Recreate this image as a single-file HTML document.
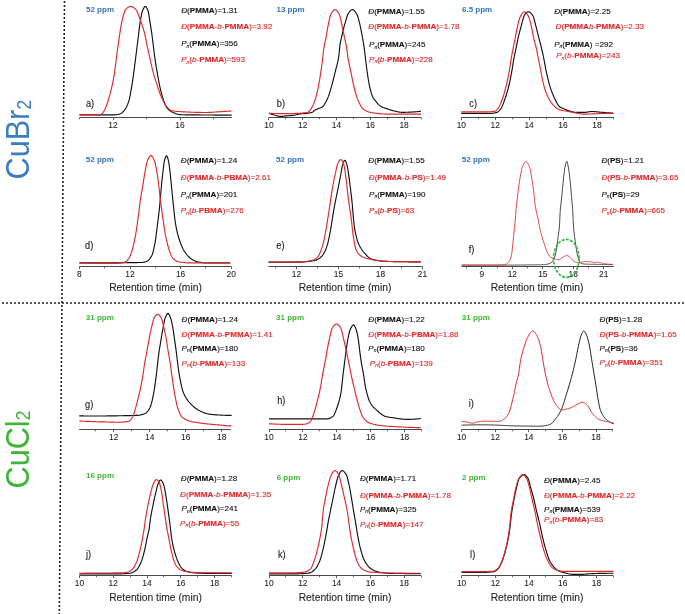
<!DOCTYPE html><html><head><meta charset="utf-8"><style>html,body{margin:0;padding:0;background:#fff;}svg{display:block;will-change:transform;}text{font-family:"Liberation Sans",sans-serif;}</style></head><body>
<svg font-size="8.1" width="685" height="614" viewBox="0 0 685 614">
<rect width="685" height="614" fill="#fff"/>
<line x1="64.5" y1="1" x2="59.3" y2="614" stroke="#222" stroke-width="1.6" stroke-dasharray="2 2"/>
<line x1="2" y1="303" x2="684" y2="303" stroke="#222" stroke-width="1.6" stroke-dasharray="2 2"/>
<text transform="translate(29.2,179.4) rotate(-90) scale(1,1.08)" font-size="30.6" fill="#3a7dc0">CuBr<tspan font-size="18" dy="1.4">2</tspan></text>
<text transform="translate(28.9,488.4) rotate(-90) scale(1,1.08)" font-size="30.6" fill="#3db535">CuCl<tspan font-size="18" dy="1.4">2</tspan></text>
<line x1="79.50" y1="117.50" x2="231.59" y2="117.50" stroke="#484848" stroke-width="1"/>
<line x1="113.50" y1="117.50" x2="113.50" y2="120.10" stroke="#484848" stroke-width="0.9"/>
<line x1="180.50" y1="117.50" x2="180.50" y2="120.10" stroke="#484848" stroke-width="0.9"/>
<line x1="79.50" y1="117.50" x2="79.50" y2="119.30" stroke="#484848" stroke-width="0.8"/>
<line x1="146.50" y1="117.50" x2="146.50" y2="119.30" stroke="#484848" stroke-width="0.8"/>
<line x1="213.50" y1="117.50" x2="213.50" y2="119.30" stroke="#484848" stroke-width="0.8"/>
<text x="113.00" y="128.00" font-size="8.4" fill="#1e1e1e" stroke="#1e1e1e" stroke-width="0.08" text-anchor="middle">12</text>
<text x="180.00" y="128.00" font-size="8.4" fill="#1e1e1e" stroke="#1e1e1e" stroke-width="0.08" text-anchor="middle">16</text>
<path d="M79.5,114.8 80.1,114.8 80.7,114.8 81.3,114.8 81.9,114.8 82.5,114.8 83.1,114.8 83.7,114.8 84.3,114.8 84.9,114.8 85.5,114.8 86.1,114.8 86.7,114.8 87.3,114.8 87.9,114.8 88.5,114.8 89.1,114.8 89.7,114.8 90.3,114.8 90.9,114.8 91.5,114.8 92.1,114.8 92.7,114.8 93.3,114.8 93.9,114.8 94.5,114.8 95.1,114.8 95.7,114.8 96.3,114.8 96.9,114.8 97.5,114.8 98.1,114.8 98.7,114.8 99.3,114.8 99.9,114.8 100.5,114.8 101.1,114.8 101.7,114.8 102.3,114.8 102.9,114.8 103.5,114.8 104.1,114.8 104.7,114.8 105.3,114.8 105.9,114.8 106.5,114.8 107.1,114.8 107.7,114.8 108.3,114.8 108.9,114.8 109.5,114.8 110.1,114.8 110.7,114.8 111.3,114.8 111.9,114.8 112.5,114.8 113.1,114.8 113.7,114.8 114.3,114.8 114.9,114.8 115.5,114.7 116.1,114.7 116.7,114.6 117.3,114.5 118.0,114.4 118.6,114.3 119.2,114.2 119.8,114.0 120.4,113.8 121.0,113.5 121.6,113.1 122.2,112.6 122.8,112.0 123.4,111.3 124.0,110.6 124.6,109.8 125.2,109.0 125.8,108.1 126.4,107.0 127.0,105.8 127.6,104.4 128.2,102.9 128.8,101.2 129.4,98.9 130.0,96.1 130.6,93.0 131.2,89.6 131.8,86.1 132.4,82.3 133.0,78.1 133.6,73.8 134.2,69.4 134.8,64.8 135.4,60.1 136.0,55.3 136.6,50.5 137.2,45.7 137.8,40.8 138.4,36.0 139.0,31.1 139.6,26.1 140.2,21.7 140.8,18.3 141.4,15.1 142.0,12.4 142.6,10.5 143.2,9.2 143.8,8.0 144.4,7.0 145.0,6.5 145.6,6.5 146.2,7.0 146.8,8.0 147.4,9.3 148.0,10.7 148.6,13.3 149.2,16.8 149.8,20.8 150.4,24.6 151.0,28.3 151.6,32.2 152.2,36.5 152.8,41.4 153.4,46.5 154.0,51.4 154.6,56.0 155.2,60.3 155.8,64.2 156.4,67.9 157.0,71.4 157.6,74.8 158.2,78.2 158.8,81.4 159.4,84.5 160.0,87.3 160.6,89.9 161.2,92.4 161.8,94.7 162.4,96.9 163.0,98.8 163.6,100.5 164.2,102.1 164.8,103.5 165.4,104.9 166.0,106.1 166.6,107.2 167.2,108.1 167.8,108.8 168.4,109.4 169.0,110.0 169.6,110.5 170.2,110.9 170.8,111.3 171.4,111.7 172.0,112.0 172.6,112.3 173.2,112.6 173.8,112.8 174.4,113.1 175.0,113.3 175.6,113.6 176.2,113.8 176.8,114.0 177.4,114.2 178.0,114.3 178.6,114.4 179.2,114.5 179.8,114.6 180.4,114.6 181.0,114.6 181.6,114.7 182.2,114.7 182.8,114.7 183.4,114.7 184.0,114.7 184.6,114.8 185.2,114.8 185.8,114.8 186.4,114.8 187.0,114.8 187.6,114.8 188.2,114.8 188.8,114.8 189.4,114.8 190.0,114.8 190.6,114.8 191.2,114.8 191.8,114.9 192.4,114.9 193.0,114.9 193.7,114.9 194.3,114.9 194.9,114.9 195.5,114.9 196.1,114.9 196.7,114.9 197.3,114.9 197.9,114.9 198.5,114.9 199.1,114.9 199.7,114.9 200.3,114.9 200.9,115.0 201.5,115.0 202.1,115.0 202.7,115.0 203.3,115.0 203.9,115.0 204.5,115.0 205.1,115.0 205.7,115.0 206.3,115.0 206.9,115.0 207.5,115.0 208.1,115.0 208.7,115.0 209.3,115.0 209.9,115.0 210.5,115.0 211.1,115.0 211.7,115.0 212.3,115.0 212.9,115.0 213.5,115.0 214.1,115.1 214.7,115.1 215.3,115.1 215.9,115.1 216.5,115.1 217.1,115.1 217.7,115.1 218.3,115.1 218.9,115.1 219.5,115.1 220.1,115.1 220.7,115.1 221.3,115.1 221.9,115.1 222.5,115.1 223.1,115.1 223.7,115.1 224.3,115.1 224.9,115.1 225.5,115.1 226.1,115.1 226.7,115.1 227.3,115.1 227.9,115.1 228.5,115.1 229.1,115.1 229.7,115.1 230.3,115.1 230.9,115.1 231.5,115.1" fill="none" stroke="#121212" stroke-width="1.15" stroke-linejoin="round"/>
<path d="M79.5,114.8 80.1,114.8 80.7,114.8 81.3,114.8 81.9,114.8 82.5,114.8 83.1,114.8 83.7,114.8 84.3,114.8 84.9,114.8 85.5,114.8 86.1,114.8 86.7,114.8 87.3,114.8 87.9,114.8 88.5,114.8 89.1,114.8 89.7,114.8 90.3,114.8 90.9,114.8 91.5,114.8 92.1,114.8 92.7,114.8 93.3,114.8 93.9,114.8 94.5,114.8 95.1,114.8 95.7,114.8 96.3,114.8 96.9,114.8 97.5,114.8 98.1,114.8 98.7,114.8 99.3,114.8 99.9,114.8 100.5,114.7 101.1,114.4 101.7,114.0 102.3,113.6 102.9,112.8 103.5,111.9 104.1,110.9 104.7,109.8 105.3,108.6 105.9,107.1 106.5,105.5 107.1,103.8 107.7,101.9 108.3,100.1 108.9,98.1 109.5,96.1 110.1,93.9 110.7,91.7 111.3,89.2 111.9,86.6 112.5,83.9 113.1,80.9 113.7,77.6 114.3,74.1 114.9,70.2 115.5,65.5 116.1,60.5 116.7,55.5 117.3,50.9 118.0,46.4 118.6,41.9 119.2,37.6 119.8,33.6 120.4,29.9 121.0,26.2 121.6,22.9 122.2,20.1 122.8,17.7 123.4,15.4 124.0,13.3 124.6,11.5 125.2,10.1 125.8,9.2 126.4,8.7 127.0,8.1 127.6,7.6 128.2,7.2 128.8,6.9 129.4,6.6 130.0,6.5 130.6,6.4 131.2,6.4 131.8,6.6 132.4,6.8 133.0,7.2 133.6,7.6 134.2,8.0 134.8,8.5 135.4,9.1 136.0,9.7 136.6,10.6 137.2,11.8 137.8,13.2 138.4,14.7 139.0,16.3 139.6,18.0 140.2,19.6 140.8,21.2 141.4,22.8 142.0,24.6 142.6,26.4 143.2,28.3 143.8,30.4 144.4,32.6 145.0,35.2 145.6,38.1 146.2,41.2 146.8,44.2 147.4,47.1 148.0,49.8 148.6,52.5 149.2,55.2 149.8,57.8 150.4,60.5 151.0,63.2 151.6,66.0 152.2,68.6 152.8,70.9 153.4,73.2 154.0,75.3 154.6,77.3 155.2,79.3 155.8,81.1 156.4,83.0 157.0,84.8 157.6,86.6 158.2,88.4 158.8,90.2 159.4,91.9 160.0,93.6 160.6,95.2 161.2,96.6 161.8,98.0 162.4,99.3 163.0,100.5 163.6,101.7 164.2,102.8 164.8,103.8 165.4,104.8 166.0,105.7 166.6,106.4 167.2,107.1 167.8,107.8 168.4,108.5 169.0,109.1 169.6,109.6 170.2,110.1 170.8,110.4 171.4,110.6 172.0,110.7 172.6,110.8 173.2,110.9 173.8,111.0 174.4,111.1 175.0,111.2 175.6,111.2 176.2,111.3 176.8,111.3 177.4,111.4 178.0,111.5 178.6,111.5 179.2,111.5 179.8,111.6 180.4,111.6 181.0,111.7 181.6,111.7 182.2,111.8 182.8,111.8 183.4,111.8 184.0,111.9 184.6,111.9 185.2,111.9 185.8,111.9 186.4,112.0 187.0,112.0 187.6,112.0 188.2,112.0 188.8,112.1 189.4,112.1 190.0,112.1 190.6,112.1 191.2,112.2 191.8,112.2 192.4,112.2 193.0,112.2 193.7,112.2 194.3,112.3 194.9,112.3 195.5,112.3 196.1,112.3 196.7,112.3 197.3,112.4 197.9,112.4 198.5,112.4 199.1,112.4 199.7,112.4 200.3,112.4 200.9,112.4 201.5,112.5 202.1,112.5 202.7,112.5 203.3,112.5 203.9,112.5 204.5,112.5 205.1,112.5 205.7,112.5 206.3,112.5 206.9,112.5 207.5,112.5 208.1,112.5 208.7,112.4 209.3,112.4 209.9,112.4 210.5,112.3 211.1,112.3 211.7,112.3 212.3,112.2 212.9,112.2 213.5,112.1 214.1,112.1 214.7,112.0 215.3,112.0 215.9,112.0 216.5,111.9 217.1,111.9 217.7,111.8 218.3,111.8 218.9,111.7 219.5,111.7 220.1,111.7 220.7,111.6 221.3,111.6 221.9,111.6 222.5,111.5 223.1,111.5 223.7,111.5 224.3,111.4 224.9,111.4 225.5,111.4 226.1,111.3 226.7,111.3 227.3,111.2 227.9,111.2 228.5,111.2 229.1,111.1 229.7,111.1 230.3,111.1 230.9,111.0 231.5,111.0" fill="none" stroke="#e02a2a" stroke-width="1.15" stroke-linejoin="round"/>
<text x="86.0" y="12.0" font-size="8.0" font-weight="bold" fill="#3572b8">52 ppm</text>
<text transform="translate(86.0,106.9) scale(0.92,1)" font-size="10" fill="#1a1a1a" stroke="#1a1a1a" stroke-width="0.12">a)</text>
<text x="181.2" y="12.6" fill="#121212" stroke="#121212" stroke-width="0.12"><tspan font-style="italic">Đ</tspan>(<tspan font-weight="bold">PMMA</tspan>)=1.31</text>
<text x="181.2" y="29.0" fill="#e32626" stroke="#e32626" stroke-width="0.12"><tspan font-style="italic">Đ</tspan>(<tspan font-weight="bold">PMMA</tspan>-<tspan font-style="italic">b</tspan>-<tspan font-weight="bold">PMMA</tspan>)=3.92</text>
<text x="181.2" y="46.1" fill="#121212" stroke="#121212" stroke-width="0.12"><tspan font-style="italic">P</tspan><tspan font-style="italic" font-size="4.9" dy="1.5">n</tspan><tspan dy="-1.5">(</tspan><tspan font-weight="bold">PMMA</tspan>)=356</text>
<text x="181.2" y="62.2" fill="#e32626" stroke="#e32626" stroke-width="0.12"><tspan font-style="italic">P</tspan><tspan font-style="italic" font-size="4.9" dy="1.5">n</tspan><tspan dy="-1.5">(</tspan><tspan font-style="italic">b</tspan>-<tspan font-weight="bold">PMMA</tspan>)=593</text>
<line x1="268.90" y1="117.50" x2="421.00" y2="117.50" stroke="#484848" stroke-width="1"/>
<line x1="268.50" y1="117.50" x2="268.50" y2="120.10" stroke="#484848" stroke-width="0.9"/>
<line x1="302.50" y1="117.50" x2="302.50" y2="120.10" stroke="#484848" stroke-width="0.9"/>
<line x1="336.50" y1="117.50" x2="336.50" y2="120.10" stroke="#484848" stroke-width="0.9"/>
<line x1="370.50" y1="117.50" x2="370.50" y2="120.10" stroke="#484848" stroke-width="0.9"/>
<line x1="404.50" y1="117.50" x2="404.50" y2="120.10" stroke="#484848" stroke-width="0.9"/>
<line x1="285.50" y1="117.50" x2="285.50" y2="119.30" stroke="#484848" stroke-width="0.8"/>
<line x1="319.50" y1="117.50" x2="319.50" y2="119.30" stroke="#484848" stroke-width="0.8"/>
<line x1="353.50" y1="117.50" x2="353.50" y2="119.30" stroke="#484848" stroke-width="0.8"/>
<line x1="387.50" y1="117.50" x2="387.50" y2="119.30" stroke="#484848" stroke-width="0.8"/>
<line x1="421.50" y1="117.50" x2="421.50" y2="119.30" stroke="#484848" stroke-width="0.8"/>
<text x="268.90" y="128.00" font-size="8.4" fill="#1e1e1e" stroke="#1e1e1e" stroke-width="0.08" text-anchor="middle">10</text>
<text x="302.70" y="128.00" font-size="8.4" fill="#1e1e1e" stroke="#1e1e1e" stroke-width="0.08" text-anchor="middle">12</text>
<text x="336.50" y="128.00" font-size="8.4" fill="#1e1e1e" stroke="#1e1e1e" stroke-width="0.08" text-anchor="middle">14</text>
<text x="370.30" y="128.00" font-size="8.4" fill="#1e1e1e" stroke="#1e1e1e" stroke-width="0.08" text-anchor="middle">16</text>
<text x="404.10" y="128.00" font-size="8.4" fill="#1e1e1e" stroke="#1e1e1e" stroke-width="0.08" text-anchor="middle">18</text>
<path d="M268.9,113.3 269.5,113.5 270.1,113.7 270.7,113.9 271.3,114.1 271.9,114.3 272.5,114.5 273.1,114.7 273.7,114.8 274.3,115.0 274.9,115.2 275.5,115.3 276.1,115.5 276.7,115.7 277.3,115.9 277.9,116.1 278.5,116.2 279.1,116.3 279.7,116.4 280.3,116.4 280.9,116.4 281.5,116.4 282.1,116.3 282.7,116.3 283.3,116.2 283.9,116.1 284.5,116.1 285.1,116.0 285.7,115.9 286.3,115.9 286.9,115.8 287.5,115.8 288.1,115.7 288.7,115.7 289.3,115.6 289.9,115.6 290.5,115.5 291.1,115.5 291.7,115.4 292.3,115.4 292.9,115.3 293.5,115.3 294.1,115.2 294.8,115.1 295.4,115.0 296.0,114.8 296.6,114.7 297.2,114.5 297.8,114.4 298.4,114.2 299.0,114.1 299.6,114.0 300.2,113.9 300.8,113.8 301.4,113.8 302.0,113.7 302.6,113.7 303.2,113.7 303.8,113.7 304.4,113.6 305.0,113.6 305.6,113.5 306.2,113.5 306.8,113.4 307.4,113.3 308.0,113.2 308.6,113.1 309.2,113.0 309.8,112.9 310.4,112.8 311.0,112.6 311.6,112.5 312.2,112.2 312.8,111.9 313.4,111.5 314.0,111.0 314.6,110.5 315.2,110.1 315.8,109.8 316.4,109.5 317.0,109.2 317.6,108.9 318.2,108.7 318.8,108.4 319.4,108.2 320.0,108.0 320.6,107.8 321.2,107.5 321.8,107.2 322.4,106.8 323.0,106.3 323.6,105.6 324.2,104.8 324.8,103.9 325.4,102.8 326.0,101.7 326.6,100.5 327.2,99.2 327.8,97.9 328.4,96.4 329.0,94.7 329.6,92.9 330.2,90.9 330.8,88.8 331.4,86.8 332.0,84.7 332.6,82.4 333.2,80.1 333.8,77.7 334.4,75.3 335.0,72.8 335.6,70.3 336.2,67.9 336.8,65.7 337.4,63.3 338.0,60.6 338.6,57.3 339.2,52.8 339.8,46.4 340.4,42.6 341.0,39.6 341.6,37.0 342.2,34.4 342.8,31.7 343.4,29.3 344.0,26.9 344.6,24.7 345.3,22.5 345.9,20.3 346.5,18.1 347.1,16.2 347.7,14.6 348.3,13.6 348.9,12.7 349.5,11.8 350.1,11.0 350.7,10.4 351.3,9.9 351.9,9.7 352.5,9.6 353.1,9.8 353.7,10.1 354.3,10.7 354.9,11.4 355.5,12.1 356.1,13.0 356.7,14.0 357.3,15.2 357.9,16.9 358.5,19.0 359.1,21.3 359.7,23.7 360.3,26.3 360.9,29.2 361.5,32.3 362.1,35.4 362.7,38.7 363.3,42.2 363.9,45.9 364.5,50.3 365.1,55.3 365.7,60.2 366.3,65.3 366.9,70.0 367.5,74.2 368.1,78.2 368.7,81.9 369.3,85.1 369.9,87.8 370.5,90.2 371.1,92.4 371.7,94.3 372.3,95.8 372.9,97.1 373.5,98.2 374.1,99.1 374.7,99.9 375.3,100.7 375.9,101.4 376.5,102.1 377.1,102.9 377.7,103.6 378.3,104.3 378.9,104.9 379.5,105.4 380.1,105.9 380.7,106.3 381.3,106.6 381.9,106.9 382.5,107.2 383.1,107.4 383.7,107.7 384.3,107.9 384.9,108.1 385.5,108.3 386.1,108.5 386.7,108.7 387.3,108.9 387.9,109.1 388.5,109.3 389.1,109.5 389.7,109.7 390.3,109.9 390.9,110.1 391.5,110.3 392.1,110.4 392.7,110.6 393.3,110.7 393.9,110.9 394.5,111.0 395.1,111.1 395.8,111.3 396.4,111.4 397.0,111.6 397.6,111.7 398.2,111.8 398.8,112.0 399.4,112.1 400.0,112.1 400.6,112.2 401.2,112.3 401.8,112.3 402.4,112.3 403.0,112.3 403.6,112.3 404.2,112.3 404.8,112.3 405.4,112.3 406.0,112.2 406.6,112.2 407.2,112.2 407.8,112.2 408.4,112.2 409.0,112.1 409.6,112.1 410.2,112.1 410.8,112.1 411.4,112.1 412.0,112.0 412.6,112.0 413.2,112.0 413.8,111.9 414.4,111.9 415.0,111.8 415.6,111.8 416.2,111.7 416.8,111.7 417.4,111.6 418.0,111.6 418.6,111.5 419.2,111.5 419.8,111.4 420.4,111.4 421.0,111.3" fill="none" stroke="#121212" stroke-width="1.15" stroke-linejoin="round"/>
<path d="M268.9,113.3 269.5,113.3 270.1,113.4 270.7,113.4 271.3,113.4 271.9,113.4 272.5,113.4 273.1,113.5 273.7,113.5 274.3,113.5 274.9,113.5 275.5,113.5 276.1,113.5 276.7,113.5 277.3,113.5 277.9,113.6 278.5,113.6 279.1,113.6 279.7,113.6 280.3,113.6 280.9,113.6 281.5,113.6 282.1,113.6 282.7,113.6 283.3,113.6 283.9,113.6 284.5,113.6 285.1,113.6 285.7,113.6 286.3,113.6 286.9,113.6 287.5,113.6 288.1,113.6 288.7,113.6 289.3,113.6 289.9,113.6 290.5,113.6 291.1,113.6 291.7,113.6 292.3,113.5 292.9,113.5 293.5,113.5 294.1,113.5 294.8,113.5 295.4,113.4 296.0,113.4 296.6,113.4 297.2,113.3 297.8,113.3 298.4,113.3 299.0,113.3 299.6,113.2 300.2,113.2 300.8,113.2 301.4,113.1 302.0,113.1 302.6,113.0 303.2,112.9 303.8,112.9 304.4,112.8 305.0,112.7 305.6,112.6 306.2,112.6 306.8,112.5 307.4,112.3 308.0,112.2 308.6,111.8 309.2,111.3 309.8,110.6 310.4,109.8 311.0,108.9 311.6,107.9 312.2,106.9 312.8,105.7 313.4,104.4 314.0,102.9 314.6,101.2 315.2,99.4 315.8,97.5 316.4,95.3 317.0,92.9 317.6,90.3 318.2,87.5 318.8,84.5 319.4,81.1 320.0,77.3 320.6,73.4 321.2,69.5 321.8,65.3 322.4,60.8 323.0,55.0 323.6,50.0 324.2,46.4 324.8,43.4 325.4,40.5 326.0,37.3 326.6,33.8 327.2,30.4 327.8,27.1 328.4,24.2 329.0,21.3 329.6,18.5 330.2,16.1 330.8,14.4 331.4,13.3 332.0,12.3 332.6,11.4 333.2,10.7 333.8,10.1 334.4,9.8 335.0,9.6 335.6,9.7 336.2,10.0 336.8,10.6 337.4,11.3 338.0,12.1 338.6,13.0 339.2,14.1 339.8,15.7 340.4,18.0 341.0,20.7 341.6,23.6 342.2,26.3 342.8,29.2 343.4,32.1 344.0,35.1 344.6,38.1 345.3,40.9 345.9,43.8 346.5,46.9 347.1,50.9 347.7,56.0 348.3,59.7 348.9,62.8 349.5,65.6 350.1,68.3 350.7,71.1 351.3,74.1 351.9,77.1 352.5,80.1 353.1,82.9 353.7,85.6 354.3,88.0 354.9,90.3 355.5,92.5 356.1,94.7 356.7,96.6 357.3,98.4 357.9,99.9 358.5,101.3 359.1,102.6 359.7,103.8 360.3,105.0 360.9,106.1 361.5,107.0 362.1,107.9 362.7,108.5 363.3,109.0 363.9,109.5 364.5,109.9 365.1,110.3 365.7,110.7 366.3,111.0 366.9,111.3 367.5,111.5 368.1,111.8 368.7,112.0 369.3,112.1 369.9,112.3 370.5,112.4 371.1,112.5 371.7,112.6 372.3,112.7 372.9,112.8 373.5,112.9 374.1,113.0 374.7,113.1 375.3,113.1 375.9,113.2 376.5,113.3 377.1,113.3 377.7,113.4 378.3,113.5 378.9,113.5 379.5,113.6 380.1,113.6 380.7,113.7 381.3,113.8 381.9,113.8 382.5,113.9 383.1,114.0 383.7,114.0 384.3,114.0 384.9,114.1 385.5,114.1 386.1,114.1 386.7,114.1 387.3,114.1 387.9,114.1 388.5,114.1 389.1,114.1 389.7,114.1 390.3,114.1 390.9,114.1 391.5,114.1 392.1,114.1 392.7,114.1 393.3,114.1 393.9,114.1 394.5,114.1 395.1,114.1 395.8,114.1 396.4,114.1 397.0,114.1 397.6,114.1 398.2,114.1 398.8,114.1 399.4,114.1 400.0,114.1 400.6,114.1 401.2,114.1 401.8,114.1 402.4,114.1 403.0,114.1 403.6,114.1 404.2,114.1 404.8,114.1 405.4,114.1 406.0,114.1 406.6,114.1 407.2,114.1 407.8,114.1 408.4,114.1 409.0,114.1 409.6,114.1 410.2,114.1 410.8,114.1 411.4,114.1 412.0,114.1 412.6,114.1 413.2,114.1 413.8,114.1 414.4,114.1 415.0,114.1 415.6,114.1 416.2,114.1 416.8,114.1 417.4,114.1 418.0,114.1 418.6,114.1 419.2,114.1 419.8,114.1 420.4,114.1 421.0,114.1" fill="none" stroke="#e02a2a" stroke-width="1.15" stroke-linejoin="round"/>
<text x="276.5" y="12.2" font-size="8.0" font-weight="bold" fill="#3572b8">13 ppm</text>
<text transform="translate(276.8,106.9) scale(0.92,1)" font-size="10" fill="#1a1a1a" stroke="#1a1a1a" stroke-width="0.12">b)</text>
<text x="368.3" y="14.1" fill="#121212" stroke="#121212" stroke-width="0.12"><tspan font-style="italic">Đ</tspan>(<tspan font-weight="bold">PMMA</tspan>)=1.55</text>
<text x="368.3" y="28.7" fill="#e32626" stroke="#e32626" stroke-width="0.12"><tspan font-style="italic">Đ</tspan>(<tspan font-weight="bold">PMMA</tspan>-<tspan font-style="italic">b</tspan>-<tspan font-weight="bold">PMMA</tspan>)=1.78</text>
<text x="369.0" y="47.2" fill="#121212" stroke="#121212" stroke-width="0.12"><tspan font-style="italic">P</tspan><tspan font-style="italic" font-size="4.9" dy="1.5">n</tspan><tspan dy="-1.5">(</tspan><tspan font-weight="bold">PMMA</tspan>)=245</text>
<text x="369.0" y="61.5" fill="#e32626" stroke="#e32626" stroke-width="0.12"><tspan font-style="italic">P</tspan><tspan font-style="italic" font-size="4.9" dy="1.5">n</tspan><tspan dy="-1.5">(</tspan><tspan font-style="italic">b</tspan>-<tspan font-weight="bold">PMMA</tspan>)=228</text>
<line x1="461.30" y1="117.50" x2="613.85" y2="117.50" stroke="#484848" stroke-width="1"/>
<line x1="461.50" y1="117.50" x2="461.50" y2="120.10" stroke="#484848" stroke-width="0.9"/>
<line x1="495.50" y1="117.50" x2="495.50" y2="120.10" stroke="#484848" stroke-width="0.9"/>
<line x1="529.50" y1="117.50" x2="529.50" y2="120.10" stroke="#484848" stroke-width="0.9"/>
<line x1="563.50" y1="117.50" x2="563.50" y2="120.10" stroke="#484848" stroke-width="0.9"/>
<line x1="596.50" y1="117.50" x2="596.50" y2="120.10" stroke="#484848" stroke-width="0.9"/>
<line x1="478.50" y1="117.50" x2="478.50" y2="119.30" stroke="#484848" stroke-width="0.8"/>
<line x1="512.50" y1="117.50" x2="512.50" y2="119.30" stroke="#484848" stroke-width="0.8"/>
<line x1="546.50" y1="117.50" x2="546.50" y2="119.30" stroke="#484848" stroke-width="0.8"/>
<line x1="579.50" y1="117.50" x2="579.50" y2="119.30" stroke="#484848" stroke-width="0.8"/>
<line x1="613.50" y1="117.50" x2="613.50" y2="119.30" stroke="#484848" stroke-width="0.8"/>
<text x="461.30" y="128.00" font-size="8.4" fill="#1e1e1e" stroke="#1e1e1e" stroke-width="0.08" text-anchor="middle">10</text>
<text x="495.20" y="128.00" font-size="8.4" fill="#1e1e1e" stroke="#1e1e1e" stroke-width="0.08" text-anchor="middle">12</text>
<text x="529.10" y="128.00" font-size="8.4" fill="#1e1e1e" stroke="#1e1e1e" stroke-width="0.08" text-anchor="middle">14</text>
<text x="563.00" y="128.00" font-size="8.4" fill="#1e1e1e" stroke="#1e1e1e" stroke-width="0.08" text-anchor="middle">16</text>
<text x="596.90" y="128.00" font-size="8.4" fill="#1e1e1e" stroke="#1e1e1e" stroke-width="0.08" text-anchor="middle">18</text>
<path d="M461.3,113.3 461.9,113.3 462.5,113.3 463.1,113.3 463.7,113.3 464.3,113.3 464.9,113.3 465.5,113.3 466.1,113.3 466.7,113.3 467.3,113.3 467.9,113.3 468.5,113.3 469.1,113.3 469.7,113.3 470.3,113.3 470.9,113.3 471.5,113.3 472.1,113.3 472.7,113.3 473.3,113.3 473.9,113.3 474.5,113.3 475.1,113.3 475.7,113.3 476.3,113.3 476.9,113.3 477.5,113.3 478.1,113.3 478.7,113.3 479.3,113.3 479.9,113.3 480.5,113.3 481.1,113.3 481.7,113.3 482.3,113.3 482.9,113.3 483.5,113.3 484.1,113.3 484.7,113.3 485.3,113.3 485.9,113.3 486.5,113.3 487.1,113.3 487.7,113.3 488.3,113.3 488.9,113.3 489.5,113.3 490.1,113.3 490.7,113.3 491.3,113.3 491.9,113.3 492.5,113.3 493.1,113.2 493.7,113.1 494.3,113.0 494.9,112.9 495.5,112.8 496.1,112.6 496.7,112.4 497.3,112.2 497.9,111.9 498.5,111.4 499.1,110.9 499.7,110.2 500.3,109.5 500.9,108.8 501.5,107.8 502.1,106.6 502.7,105.1 503.3,103.6 503.9,101.9 504.5,100.3 505.1,98.6 505.7,96.8 506.3,95.0 506.9,93.1 507.5,91.0 508.1,88.8 508.7,86.5 509.3,84.0 509.9,81.2 510.5,78.2 511.1,75.1 511.7,71.9 512.3,68.5 512.9,64.7 513.5,60.8 514.1,57.5 514.7,54.7 515.3,52.0 515.9,49.2 516.5,46.1 517.1,42.9 517.7,39.9 518.3,37.2 518.9,34.7 519.5,32.4 520.1,30.2 520.7,28.0 521.3,25.8 521.9,23.4 522.5,21.1 523.1,18.8 523.7,16.9 524.3,15.5 524.9,14.6 525.5,13.8 526.1,13.1 526.7,12.5 527.3,12.0 527.9,11.8 528.5,11.7 529.1,11.9 529.7,12.2 530.3,12.6 530.9,13.2 531.5,13.8 532.1,14.5 532.7,15.3 533.3,16.6 533.9,18.4 534.5,20.6 535.1,23.0 535.7,25.4 536.3,27.6 536.9,30.0 537.5,32.4 538.1,34.9 538.7,37.3 539.3,39.7 539.9,42.0 540.5,44.2 541.1,46.6 541.7,49.0 542.3,51.5 542.9,54.2 543.5,57.0 544.1,60.1 544.7,63.4 545.3,66.7 545.9,69.8 546.5,72.6 547.1,75.3 547.7,77.9 548.3,80.4 548.9,82.7 549.5,84.8 550.1,86.8 550.7,88.7 551.3,90.4 551.9,92.1 552.5,93.6 553.1,95.1 553.7,96.5 554.3,97.8 554.9,99.0 555.5,100.2 556.1,101.4 556.7,102.5 557.3,103.6 557.9,104.6 558.5,105.4 559.1,106.2 559.7,106.7 560.3,107.2 560.9,107.5 561.5,107.8 562.1,108.1 562.7,108.3 563.3,108.6 563.9,108.8 564.5,109.0 565.1,109.3 565.7,109.6 566.3,109.9 566.9,110.1 567.5,110.4 568.1,110.6 568.7,110.8 569.3,110.9 569.9,111.1 570.5,111.3 571.1,111.5 571.7,111.6 572.3,111.8 572.9,111.9 573.5,112.1 574.1,112.2 574.7,112.2 575.3,112.3 575.9,112.3 576.5,112.3 577.1,112.3 577.7,112.3 578.3,112.3 578.9,112.3 579.5,112.3 580.1,112.3 580.7,112.3 581.3,112.3 581.9,112.3 582.5,112.3 583.1,112.3 583.7,112.3 584.3,112.3 584.9,112.3 585.5,112.3 586.1,112.2 586.7,112.1 587.3,112.1 587.9,112.0 588.5,111.9 589.1,111.8 589.7,111.7 590.3,111.6 590.9,111.6 591.5,111.5 592.1,111.5 592.7,111.5 593.3,111.5 593.9,111.6 594.5,111.6 595.1,111.6 595.7,111.7 596.3,111.8 596.9,111.8 597.5,111.9 598.1,112.0 598.7,112.0 599.3,112.1 599.9,112.1 600.5,112.2 601.1,112.2 601.7,112.3 602.3,112.3 602.9,112.4 603.5,112.4 604.1,112.5 604.7,112.5 605.3,112.6 605.9,112.6 606.5,112.7 607.1,112.7 607.7,112.8 608.3,112.8 608.9,112.8 609.5,112.9 610.1,112.9 610.7,113.0 611.3,113.0 611.9,113.1 612.5,113.1 613.1,113.2 613.7,113.2" fill="none" stroke="#121212" stroke-width="1.15" stroke-linejoin="round"/>
<path d="M461.3,111.8 461.9,111.8 462.5,111.8 463.1,111.8 463.7,111.8 464.3,111.8 464.9,111.8 465.5,111.8 466.1,111.8 466.7,111.8 467.3,111.8 467.9,111.8 468.5,111.8 469.1,111.8 469.7,111.8 470.3,111.8 470.9,111.8 471.5,111.8 472.1,111.8 472.7,111.8 473.3,111.8 473.9,111.8 474.5,111.8 475.1,111.8 475.7,111.8 476.3,111.8 476.9,111.8 477.5,111.8 478.1,111.8 478.7,111.8 479.3,111.8 479.9,111.8 480.5,111.8 481.1,111.8 481.7,111.8 482.3,111.8 482.9,111.8 483.5,111.8 484.1,111.8 484.7,111.8 485.3,111.8 485.9,111.8 486.5,111.8 487.1,111.8 487.7,111.8 488.3,111.8 488.9,111.7 489.5,111.7 490.1,111.7 490.7,111.7 491.3,111.6 491.9,111.6 492.5,111.5 493.1,111.5 493.7,111.4 494.3,111.4 494.9,111.2 495.5,110.9 496.1,110.4 496.7,109.8 497.3,109.1 497.9,108.4 498.5,107.7 499.1,106.7 499.7,105.5 500.3,104.2 500.9,102.8 501.5,101.3 502.1,99.7 502.7,98.0 503.3,96.2 503.9,94.3 504.5,92.2 505.1,90.0 505.7,87.7 506.3,85.3 506.9,82.7 507.5,80.0 508.1,77.1 508.7,74.0 509.3,70.8 509.9,67.1 510.5,63.1 511.1,59.2 511.7,55.8 512.3,52.7 512.9,49.7 513.5,46.6 514.1,43.6 514.7,40.5 515.3,37.5 515.9,34.3 516.5,31.1 517.1,28.2 517.7,25.6 518.3,23.1 518.9,20.7 519.5,18.6 520.1,17.0 520.7,15.9 521.3,14.9 521.9,14.0 522.5,13.2 523.1,12.6 523.7,12.1 524.3,11.9 524.9,12.0 525.5,12.3 526.1,12.8 526.7,13.5 527.3,14.4 527.9,15.4 528.5,16.4 529.1,17.8 529.7,19.7 530.3,21.9 530.9,24.4 531.5,26.9 532.1,29.7 532.7,32.9 533.3,36.1 533.9,38.9 534.5,41.4 535.1,43.7 535.7,46.0 536.3,48.4 536.9,51.2 537.5,54.3 538.1,57.5 538.7,60.5 539.3,63.5 539.9,66.4 540.5,69.3 541.1,72.3 541.7,75.4 542.3,78.5 542.9,81.5 543.5,84.2 544.1,86.5 544.7,88.5 545.3,90.3 545.9,92.0 546.5,93.6 547.1,95.1 547.7,96.5 548.3,97.7 548.9,98.8 549.5,99.9 550.1,100.8 550.7,101.7 551.3,102.6 551.9,103.4 552.5,104.1 553.1,104.8 553.7,105.5 554.3,106.1 554.9,106.7 555.5,107.2 556.1,107.7 556.7,108.1 557.3,108.6 557.9,109.0 558.5,109.3 559.1,109.7 559.7,109.9 560.3,110.1 560.9,110.2 561.5,110.4 562.1,110.5 562.7,110.6 563.3,110.7 563.9,110.7 564.5,110.8 565.1,110.9 565.7,111.0 566.3,111.1 566.9,111.2 567.5,111.3 568.1,111.4 568.7,111.5 569.3,111.7 569.9,111.8 570.5,111.9 571.1,112.1 571.7,112.2 572.3,112.3 572.9,112.5 573.5,112.6 574.1,112.7 574.7,112.8 575.3,112.9 575.9,113.0 576.5,113.1 577.1,113.2 577.7,113.3 578.3,113.4 578.9,113.5 579.5,113.6 580.1,113.7 580.7,113.8 581.3,113.9 581.9,113.9 582.5,114.0 583.1,114.1 583.7,114.1 584.3,114.1 584.9,114.1 585.5,114.1 586.1,114.1 586.7,114.1 587.3,114.1 587.9,114.1 588.5,114.0 589.1,114.0 589.7,114.0 590.3,114.0 590.9,114.0 591.5,113.9 592.1,113.9 592.7,113.9 593.3,113.9 593.9,113.8 594.5,113.8 595.1,113.8 595.7,113.8 596.3,113.7 596.9,113.7 597.5,113.7 598.1,113.6 598.7,113.6 599.3,113.6 599.9,113.5 600.5,113.5 601.1,113.5 601.7,113.4 602.3,113.4 602.9,113.4 603.5,113.4 604.1,113.4 604.7,113.4 605.3,113.4 605.9,113.4 606.5,113.4 607.1,113.4 607.7,113.4 608.3,113.4 608.9,113.4 609.5,113.4 610.1,113.4 610.7,113.4 611.3,113.4 611.9,113.4 612.5,113.4 613.1,113.4 613.7,113.4" fill="none" stroke="#e02a2a" stroke-width="1.15" stroke-linejoin="round"/>
<text x="462.0" y="12.2" font-size="8.0" font-weight="bold" fill="#3572b8">6.5 ppm</text>
<text transform="translate(469.3,106.9) scale(0.92,1)" font-size="10" fill="#1a1a1a" stroke="#1a1a1a" stroke-width="0.12">c)</text>
<text x="554.2" y="13.5" fill="#121212" stroke="#121212" stroke-width="0.12"><tspan font-style="italic">Đ</tspan>(<tspan font-weight="bold">PMMA</tspan>)=2.25</text>
<text x="555.6" y="28.8" fill="#e32626" stroke="#e32626" stroke-width="0.12"><tspan font-style="italic">Đ</tspan>(<tspan font-weight="bold">PMMA</tspan><tspan font-style="italic">b</tspan>-<tspan font-weight="bold">PMMA</tspan>)=2.33</text>
<text x="554.2" y="46.8" fill="#121212" stroke="#121212" stroke-width="0.12"><tspan font-style="italic">P</tspan><tspan font-style="italic" font-size="4.9" dy="1.5">n</tspan><tspan dy="-1.5">(</tspan><tspan font-weight="bold">PMMA</tspan>) =292</text>
<text x="556.2" y="58.4" fill="#e32626" stroke="#e32626" stroke-width="0.12"><tspan font-style="italic">P</tspan><tspan font-style="italic" font-size="4.9" dy="1.5">n</tspan><tspan dy="-1.5">(</tspan><tspan font-style="italic">b</tspan>-<tspan font-weight="bold">PMMA</tspan>)=243</text>
<line x1="79.40" y1="266.50" x2="231.20" y2="266.50" stroke="#484848" stroke-width="1"/>
<line x1="79.50" y1="266.50" x2="79.50" y2="269.10" stroke="#484848" stroke-width="0.9"/>
<line x1="130.50" y1="266.50" x2="130.50" y2="269.10" stroke="#484848" stroke-width="0.9"/>
<line x1="180.50" y1="266.50" x2="180.50" y2="269.10" stroke="#484848" stroke-width="0.9"/>
<line x1="231.50" y1="266.50" x2="231.50" y2="269.10" stroke="#484848" stroke-width="0.9"/>
<line x1="104.50" y1="266.50" x2="104.50" y2="268.30" stroke="#484848" stroke-width="0.8"/>
<line x1="155.50" y1="266.50" x2="155.50" y2="268.30" stroke="#484848" stroke-width="0.8"/>
<line x1="205.50" y1="266.50" x2="205.50" y2="268.30" stroke="#484848" stroke-width="0.8"/>
<text x="79.40" y="277.00" font-size="8.4" fill="#1e1e1e" stroke="#1e1e1e" stroke-width="0.08" text-anchor="middle">8</text>
<text x="130.00" y="277.00" font-size="8.4" fill="#1e1e1e" stroke="#1e1e1e" stroke-width="0.08" text-anchor="middle">12</text>
<text x="180.60" y="277.00" font-size="8.4" fill="#1e1e1e" stroke="#1e1e1e" stroke-width="0.08" text-anchor="middle">16</text>
<text x="231.20" y="277.00" font-size="8.4" fill="#1e1e1e" stroke="#1e1e1e" stroke-width="0.08" text-anchor="middle">20</text>
<path d="M79.4,262.8 80.0,262.8 80.6,262.8 81.2,262.8 81.8,262.8 82.4,262.8 83.0,262.8 83.6,262.8 84.2,262.8 84.8,262.8 85.4,262.8 86.0,262.8 86.6,262.8 87.2,262.8 87.8,262.8 88.4,262.8 89.0,262.8 89.6,262.8 90.2,262.8 90.8,262.8 91.4,262.8 92.0,262.8 92.6,262.8 93.2,262.8 93.8,262.8 94.4,262.8 95.0,262.8 95.6,262.8 96.2,262.8 96.8,262.8 97.4,262.8 98.0,262.8 98.6,262.8 99.2,262.8 99.8,262.8 100.4,262.8 101.0,262.8 101.6,262.8 102.2,262.8 102.8,262.8 103.4,262.8 104.0,262.8 104.6,262.8 105.2,262.8 105.8,262.8 106.4,262.8 107.0,262.8 107.6,262.8 108.2,262.8 108.8,262.8 109.4,262.8 110.0,262.8 110.6,262.7 111.2,262.7 111.8,262.7 112.4,262.7 113.0,262.7 113.6,262.7 114.2,262.7 114.8,262.7 115.4,262.7 116.0,262.7 116.6,262.7 117.3,262.7 117.9,262.7 118.5,262.7 119.1,262.7 119.7,262.7 120.3,262.7 120.9,262.7 121.5,262.7 122.1,262.7 122.7,262.7 123.3,262.7 123.9,262.7 124.5,262.7 125.1,262.7 125.7,262.7 126.3,262.7 126.9,262.7 127.5,262.6 128.1,262.6 128.7,262.6 129.3,262.6 129.9,262.6 130.5,262.6 131.1,262.6 131.7,262.6 132.3,262.6 132.9,262.6 133.5,262.6 134.1,262.6 134.7,262.6 135.3,262.6 135.9,262.6 136.5,262.6 137.1,262.6 137.7,262.5 138.3,262.5 138.9,262.5 139.5,262.5 140.1,262.5 140.7,262.5 141.3,262.5 141.9,262.5 142.5,262.4 143.1,262.3 143.7,262.2 144.3,262.1 144.9,262.0 145.5,261.8 146.1,261.6 146.7,261.4 147.3,261.1 147.9,260.7 148.5,260.2 149.1,259.6 149.7,258.9 150.3,258.1 150.9,257.1 151.5,256.1 152.1,255.0 152.7,253.3 153.3,251.1 153.9,248.4 154.5,245.5 155.1,242.4 155.7,238.7 156.3,234.2 156.9,229.2 157.5,224.3 158.1,219.6 158.7,214.9 159.3,209.8 159.9,203.6 160.5,196.6 161.1,189.7 161.7,183.3 162.3,177.5 162.9,172.2 163.5,166.9 164.1,162.3 164.7,159.6 165.3,157.6 165.9,156.1 166.5,155.6 167.1,156.3 167.7,157.9 168.3,160.1 168.9,163.0 169.5,167.4 170.1,172.4 170.7,178.3 171.3,184.6 171.9,190.7 172.5,196.7 173.1,202.5 173.7,208.1 174.3,213.9 174.9,219.3 175.5,223.5 176.1,226.8 176.7,229.8 177.3,232.5 177.9,234.9 178.5,237.0 179.1,239.0 179.7,240.8 180.3,242.5 180.9,244.1 181.5,245.6 182.1,247.0 182.7,248.3 183.3,249.5 183.9,250.5 184.5,251.5 185.1,252.4 185.7,253.2 186.3,254.0 186.9,254.8 187.5,255.5 188.1,256.2 188.7,256.8 189.3,257.3 189.9,257.9 190.5,258.3 191.1,258.8 191.7,259.2 192.3,259.5 193.0,259.9 193.6,260.2 194.2,260.6 194.8,260.8 195.4,261.1 196.0,261.4 196.6,261.6 197.2,261.8 197.8,261.9 198.4,262.0 199.0,262.1 199.6,262.2 200.2,262.3 200.8,262.4 201.4,262.5 202.0,262.6 202.6,262.7 203.2,262.7 203.8,262.8 204.4,262.8 205.0,262.8 205.6,262.8 206.2,262.8 206.8,262.8 207.4,262.8 208.0,262.8 208.6,262.8 209.2,262.8 209.8,262.8 210.4,262.8 211.0,262.8 211.6,262.8 212.2,262.8 212.8,262.8 213.4,262.8 214.0,262.8 214.6,262.8 215.2,262.8 215.8,262.8 216.4,262.8 217.0,262.8 217.6,262.8 218.2,262.8 218.8,262.8 219.4,262.8 220.0,262.8 220.6,262.8 221.2,262.8 221.8,262.8 222.4,262.8 223.0,262.8 223.6,262.8 224.2,262.8 224.8,262.8 225.4,262.8 226.0,262.8 226.6,262.8 227.2,262.8 227.8,262.8 228.4,262.8 229.0,262.8 229.6,262.8 230.2,262.8" fill="none" stroke="#121212" stroke-width="1.15" stroke-linejoin="round"/>
<path d="M79.4,263.0 80.0,263.0 80.6,263.0 81.2,263.1 81.8,263.1 82.4,263.1 83.0,263.1 83.6,263.1 84.2,263.1 84.8,263.2 85.4,263.2 86.0,263.2 86.6,263.2 87.2,263.2 87.8,263.2 88.4,263.2 89.0,263.2 89.6,263.3 90.2,263.3 90.8,263.3 91.4,263.3 92.0,263.3 92.6,263.3 93.2,263.3 93.8,263.3 94.4,263.3 95.0,263.3 95.6,263.3 96.2,263.3 96.8,263.3 97.4,263.4 98.0,263.4 98.6,263.4 99.2,263.4 99.8,263.4 100.4,263.4 101.0,263.4 101.6,263.4 102.2,263.4 102.8,263.4 103.4,263.4 104.0,263.4 104.6,263.4 105.2,263.4 105.8,263.4 106.4,263.4 107.0,263.4 107.6,263.4 108.2,263.4 108.8,263.4 109.4,263.4 110.0,263.4 110.6,263.4 111.2,263.4 111.8,263.4 112.4,263.4 113.0,263.4 113.6,263.4 114.2,263.4 114.8,263.4 115.4,263.4 116.0,263.4 116.6,263.4 117.3,263.3 117.9,263.3 118.5,263.3 119.1,263.2 119.7,263.2 120.3,263.1 120.9,263.1 121.5,263.0 122.1,262.9 122.7,262.8 123.3,262.7 123.9,262.6 124.5,262.3 125.1,262.0 125.7,261.6 126.3,261.2 126.9,260.7 127.5,260.1 128.1,259.5 128.7,258.8 129.3,257.7 129.9,256.5 130.5,255.0 131.1,253.4 131.7,251.6 132.3,249.8 132.9,247.6 133.5,245.2 134.1,242.5 134.7,239.6 135.3,236.5 135.9,233.1 136.5,229.4 137.1,225.4 137.7,221.1 138.3,216.7 138.9,211.7 139.5,206.6 140.1,201.8 140.7,197.8 141.3,194.2 141.9,190.7 142.5,187.3 143.1,183.7 143.7,179.8 144.3,176.1 144.9,172.6 145.5,169.3 146.1,166.1 146.7,163.2 147.3,161.1 147.9,159.7 148.5,158.4 149.1,157.3 149.7,156.4 150.3,155.8 150.9,155.6 151.5,155.8 152.1,156.3 152.7,157.2 153.3,158.2 153.9,159.5 154.5,160.8 155.1,162.7 155.7,165.4 156.3,168.6 156.9,172.0 157.5,175.7 158.1,180.0 158.7,184.7 159.3,190.0 159.9,195.6 160.5,200.7 161.1,205.3 161.7,209.7 162.3,214.0 162.9,218.2 163.5,222.4 164.1,226.6 164.7,230.7 165.3,234.3 165.9,237.3 166.5,240.1 167.1,242.7 167.7,245.0 168.3,247.2 168.9,249.1 169.5,250.9 170.1,252.6 170.7,254.3 171.3,255.7 171.9,257.0 172.5,257.9 173.1,258.5 173.7,259.0 174.3,259.5 174.9,260.0 175.5,260.4 176.1,260.7 176.7,261.0 177.3,261.3 177.9,261.5 178.5,261.7 179.1,261.8 179.7,262.0 180.3,262.1 180.9,262.2 181.5,262.2 182.1,262.3 182.7,262.4 183.3,262.5 183.9,262.5 184.5,262.6 185.1,262.7 185.7,262.7 186.3,262.7 186.9,262.8 187.5,262.8 188.1,262.8 188.7,262.8 189.3,262.8 189.9,262.8 190.5,262.8 191.1,262.8 191.7,262.8 192.3,262.8 193.0,262.8 193.6,262.8 194.2,262.8 194.8,262.8 195.4,262.8 196.0,262.8 196.6,262.8 197.2,262.8 197.8,262.8 198.4,262.8 199.0,262.8 199.6,262.8 200.2,262.8 200.8,262.8 201.4,262.8 202.0,262.8 202.6,262.8 203.2,262.8 203.8,262.8 204.4,262.8 205.0,262.8 205.6,262.8 206.2,262.8 206.8,262.8 207.4,262.8 208.0,262.8 208.6,262.8 209.2,262.8 209.8,262.8 210.4,262.8 211.0,262.8 211.6,262.8 212.2,262.8 212.8,262.8 213.4,262.8 214.0,262.8 214.6,262.8 215.2,262.8 215.8,262.8 216.4,262.8 217.0,262.8 217.6,262.8 218.2,262.8 218.8,262.8 219.4,262.8 220.0,262.8 220.6,262.8 221.2,262.8 221.8,262.8 222.4,262.8 223.0,262.8 223.6,262.8 224.2,262.8 224.8,262.8 225.4,262.8 226.0,262.8 226.6,262.8 227.2,262.8 227.8,262.8 228.4,262.8 229.0,262.8 229.6,262.8 230.2,262.8" fill="none" stroke="#e02a2a" stroke-width="1.15" stroke-linejoin="round"/>
<text x="85.8" y="162.3" font-size="8.0" font-weight="bold" fill="#3572b8">52 ppm</text>
<text transform="translate(85.1,249.0) scale(0.92,1)" font-size="10" fill="#1a1a1a" stroke="#1a1a1a" stroke-width="0.12">d)</text>
<text x="180.8" y="163.0" fill="#121212" stroke="#121212" stroke-width="0.12"><tspan font-style="italic">Đ</tspan>(<tspan font-weight="bold">PMMA</tspan>)=1.24</text>
<text x="180.8" y="180.2" fill="#e32626" stroke="#e32626" stroke-width="0.12"><tspan font-style="italic">Đ</tspan>(<tspan font-weight="bold">PMMA</tspan>-<tspan font-style="italic">b</tspan>-<tspan font-weight="bold">PBMA</tspan>)=2.61</text>
<text x="180.8" y="197.0" fill="#121212" stroke="#121212" stroke-width="0.12"><tspan font-style="italic">P</tspan><tspan font-style="italic" font-size="4.9" dy="1.5">n</tspan><tspan dy="-1.5">(</tspan><tspan font-weight="bold">PMMA</tspan>)=201</text>
<text x="180.8" y="213.1" fill="#e32626" stroke="#e32626" stroke-width="0.12"><tspan font-style="italic">P</tspan><tspan font-style="italic" font-size="4.9" dy="1.5">n</tspan><tspan dy="-1.5">(</tspan><tspan font-style="italic">b</tspan>-<tspan font-weight="bold">PBMA</tspan>)=276</text>
<line x1="268.50" y1="266.50" x2="422.50" y2="266.50" stroke="#484848" stroke-width="1"/>
<line x1="296.50" y1="266.50" x2="296.50" y2="269.10" stroke="#484848" stroke-width="0.9"/>
<line x1="338.50" y1="266.50" x2="338.50" y2="269.10" stroke="#484848" stroke-width="0.9"/>
<line x1="380.50" y1="266.50" x2="380.50" y2="269.10" stroke="#484848" stroke-width="0.9"/>
<line x1="422.50" y1="266.50" x2="422.50" y2="269.10" stroke="#484848" stroke-width="0.9"/>
<line x1="275.50" y1="266.50" x2="275.50" y2="268.30" stroke="#484848" stroke-width="0.8"/>
<line x1="317.50" y1="266.50" x2="317.50" y2="268.30" stroke="#484848" stroke-width="0.8"/>
<line x1="359.50" y1="266.50" x2="359.50" y2="268.30" stroke="#484848" stroke-width="0.8"/>
<line x1="401.50" y1="266.50" x2="401.50" y2="268.30" stroke="#484848" stroke-width="0.8"/>
<text x="296.50" y="277.00" font-size="8.4" fill="#1e1e1e" stroke="#1e1e1e" stroke-width="0.08" text-anchor="middle">12</text>
<text x="338.50" y="277.00" font-size="8.4" fill="#1e1e1e" stroke="#1e1e1e" stroke-width="0.08" text-anchor="middle">15</text>
<text x="380.50" y="277.00" font-size="8.4" fill="#1e1e1e" stroke="#1e1e1e" stroke-width="0.08" text-anchor="middle">18</text>
<text x="422.50" y="277.00" font-size="8.4" fill="#1e1e1e" stroke="#1e1e1e" stroke-width="0.08" text-anchor="middle">21</text>
<path d="M268.5,262.1 269.1,262.1 269.7,262.1 270.3,262.1 270.9,262.1 271.5,262.1 272.1,262.1 272.7,262.1 273.3,262.1 273.9,262.1 274.5,262.1 275.1,262.1 275.7,262.1 276.3,262.1 276.9,262.1 277.5,262.1 278.1,262.1 278.7,262.1 279.3,262.1 279.9,262.1 280.5,262.1 281.1,262.1 281.7,262.1 282.3,262.1 282.9,262.1 283.5,262.1 284.2,262.1 284.8,262.1 285.4,262.1 286.0,262.1 286.6,262.1 287.2,262.1 287.8,262.1 288.4,262.1 289.0,262.1 289.6,262.1 290.2,262.1 290.8,262.1 291.4,262.1 292.0,262.1 292.6,262.1 293.2,262.1 293.8,262.1 294.4,262.1 295.0,262.1 295.6,262.1 296.2,262.1 296.8,262.1 297.4,262.1 298.0,262.1 298.6,262.1 299.2,262.1 299.8,262.1 300.4,262.1 301.0,262.1 301.6,262.1 302.2,262.0 302.8,262.0 303.4,261.9 304.0,261.9 304.6,261.8 305.2,261.8 305.8,261.7 306.4,261.7 307.0,261.6 307.6,261.5 308.2,261.5 308.8,261.4 309.4,261.3 310.0,261.3 310.6,261.2 311.2,261.1 311.8,261.0 312.4,260.9 313.0,260.8 313.6,260.7 314.3,260.6 314.9,260.4 315.5,260.3 316.1,260.1 316.7,259.9 317.3,259.6 317.9,259.3 318.5,259.0 319.1,258.5 319.7,258.1 320.3,257.6 320.9,257.0 321.5,256.5 322.1,255.8 322.7,255.2 323.3,254.3 323.9,253.4 324.5,252.2 325.1,251.0 325.7,249.6 326.3,248.1 326.9,246.4 327.5,244.5 328.1,242.1 328.7,239.4 329.3,236.5 329.9,233.4 330.5,230.3 331.1,226.8 331.7,223.0 332.3,219.1 332.9,215.4 333.5,211.7 334.1,208.0 334.7,204.8 335.3,201.8 335.9,198.9 336.5,196.0 337.1,193.1 337.7,190.2 338.3,187.3 338.9,184.2 339.5,181.2 340.1,178.1 340.7,175.0 341.3,171.5 341.9,168.1 342.5,165.4 343.1,163.4 343.7,161.6 344.3,160.5 345.0,160.4 345.6,161.2 346.2,162.6 346.8,164.4 347.4,166.6 348.0,170.0 348.6,174.1 349.2,178.3 349.8,183.1 350.4,188.0 351.0,192.8 351.6,197.9 352.2,203.5 352.8,210.6 353.4,217.9 354.0,223.5 354.6,228.2 355.2,231.8 355.8,234.6 356.4,237.1 357.0,239.3 357.6,241.2 358.2,242.9 358.8,244.3 359.4,245.6 360.0,246.8 360.6,247.8 361.2,248.8 361.8,249.7 362.4,250.5 363.0,251.3 363.6,252.0 364.2,252.7 364.8,253.4 365.4,254.0 366.0,254.7 366.6,255.4 367.2,256.0 367.8,256.6 368.4,257.1 369.0,257.6 369.6,258.1 370.2,258.4 370.8,258.7 371.4,259.0 372.0,259.2 372.6,259.4 373.2,259.6 373.8,259.8 374.4,260.0 375.0,260.1 375.7,260.3 376.3,260.4 376.9,260.5 377.5,260.6 378.1,260.7 378.7,260.8 379.3,260.8 379.9,260.9 380.5,261.0 381.1,261.0 381.7,261.1 382.3,261.1 382.9,261.2 383.5,261.2 384.1,261.2 384.7,261.3 385.3,261.3 385.9,261.4 386.5,261.4 387.1,261.4 387.7,261.4 388.3,261.5 388.9,261.5 389.5,261.5 390.1,261.5 390.7,261.5 391.3,261.5 391.9,261.5 392.5,261.5 393.1,261.6 393.7,261.6 394.3,261.6 394.9,261.6 395.5,261.6 396.1,261.6 396.7,261.6 397.3,261.6 397.9,261.6 398.5,261.6 399.1,261.6 399.7,261.7 400.3,261.7 400.9,261.7 401.5,261.7 402.1,261.7 402.7,261.7 403.3,261.7 403.9,261.7 404.5,261.7 405.1,261.7 405.8,261.7 406.4,261.7 407.0,261.7 407.6,261.7 408.2,261.7 408.8,261.8 409.4,261.8 410.0,261.8 410.6,261.8 411.2,261.8 411.8,261.8 412.4,261.8 413.0,261.8 413.6,261.8 414.2,261.8 414.8,261.8 415.4,261.8 416.0,261.8 416.6,261.8 417.2,261.8 417.8,261.8 418.4,261.8 419.0,261.8 419.6,261.8 420.2,261.8 420.8,261.8" fill="none" stroke="#121212" stroke-width="1.15" stroke-linejoin="round"/>
<path d="M268.5,262.0 269.1,262.0 269.7,262.0 270.3,262.0 270.9,262.0 271.5,262.0 272.1,262.0 272.7,262.0 273.3,262.0 273.9,262.0 274.5,262.0 275.1,262.0 275.7,262.0 276.3,262.0 276.9,262.0 277.5,262.0 278.1,262.0 278.7,262.0 279.3,262.0 279.9,262.0 280.5,262.0 281.1,262.0 281.7,262.0 282.3,262.0 282.9,262.0 283.5,262.0 284.2,262.0 284.8,262.0 285.4,262.0 286.0,262.0 286.6,262.0 287.2,262.0 287.8,262.0 288.4,262.0 289.0,262.0 289.6,262.0 290.2,262.0 290.8,262.0 291.4,262.0 292.0,261.9 292.6,261.9 293.2,261.9 293.8,261.9 294.4,261.9 295.0,261.9 295.6,261.9 296.2,261.9 296.8,261.9 297.4,261.9 298.0,261.9 298.6,261.9 299.2,261.9 299.8,261.9 300.4,261.9 301.0,261.9 301.6,261.9 302.2,261.8 302.8,261.8 303.4,261.8 304.0,261.7 304.6,261.6 305.2,261.6 305.8,261.5 306.4,261.4 307.0,261.4 307.6,261.3 308.2,261.2 308.8,261.1 309.4,261.0 310.0,260.9 310.6,260.7 311.2,260.6 311.8,260.5 312.4,260.3 313.0,260.1 313.6,259.9 314.3,259.6 314.9,259.2 315.5,258.8 316.1,258.4 316.7,257.9 317.3,257.3 317.9,256.7 318.5,255.9 319.1,254.9 319.7,253.6 320.3,252.2 320.9,250.6 321.5,248.9 322.1,247.1 322.7,245.2 323.3,242.9 323.9,240.3 324.5,237.5 325.1,234.5 325.7,231.4 326.3,228.1 326.9,224.4 327.5,220.6 328.1,216.8 328.7,212.9 329.3,209.0 329.9,204.9 330.5,200.6 331.1,196.6 331.7,192.7 332.3,189.0 332.9,185.5 333.5,182.3 334.1,179.3 334.7,176.5 335.3,173.8 335.9,171.0 336.5,168.2 337.1,165.7 337.7,163.9 338.3,162.6 338.9,161.4 339.5,160.4 340.1,159.8 340.7,159.6 341.3,159.8 341.9,160.4 342.5,161.1 343.1,162.1 343.7,163.5 344.3,166.7 345.0,170.9 345.6,175.2 346.2,179.7 346.8,184.6 347.4,190.2 348.0,195.9 348.6,200.6 349.2,204.7 349.8,208.8 350.4,212.9 351.0,217.1 351.6,221.9 352.2,227.4 352.8,232.7 353.4,236.9 354.0,240.7 354.6,244.2 355.2,247.0 355.8,249.0 356.4,250.3 357.0,251.5 357.6,252.5 358.2,253.4 358.8,254.2 359.4,254.8 360.0,255.3 360.6,255.7 361.2,256.1 361.8,256.5 362.4,256.8 363.0,257.1 363.6,257.3 364.2,257.6 364.8,257.8 365.4,258.0 366.0,258.2 366.6,258.4 367.2,258.5 367.8,258.7 368.4,258.8 369.0,259.0 369.6,259.1 370.2,259.2 370.8,259.3 371.4,259.5 372.0,259.6 372.6,259.7 373.2,259.8 373.8,259.9 374.4,259.9 375.0,260.0 375.7,260.1 376.3,260.2 376.9,260.3 377.5,260.3 378.1,260.4 378.7,260.5 379.3,260.6 379.9,260.6 380.5,260.7 381.1,260.8 381.7,260.8 382.3,260.9 382.9,261.0 383.5,261.0 384.1,261.1 384.7,261.2 385.3,261.2 385.9,261.3 386.5,261.3 387.1,261.4 387.7,261.4 388.3,261.4 388.9,261.5 389.5,261.5 390.1,261.5 390.7,261.5 391.3,261.5 391.9,261.5 392.5,261.5 393.1,261.6 393.7,261.6 394.3,261.6 394.9,261.6 395.5,261.6 396.1,261.6 396.7,261.6 397.3,261.6 397.9,261.6 398.5,261.6 399.1,261.7 399.7,261.7 400.3,261.7 400.9,261.7 401.5,261.7 402.1,261.7 402.7,261.7 403.3,261.7 403.9,261.7 404.5,261.7 405.1,261.7 405.8,261.7 406.4,261.7 407.0,261.7 407.6,261.7 408.2,261.8 408.8,261.8 409.4,261.8 410.0,261.8 410.6,261.8 411.2,261.8 411.8,261.8 412.4,261.8 413.0,261.8 413.6,261.8 414.2,261.8 414.8,261.8 415.4,261.8 416.0,261.8 416.6,261.8 417.2,261.8 417.8,261.8 418.4,261.8 419.0,261.8 419.6,261.8 420.2,261.8 420.8,261.8" fill="none" stroke="#e02a2a" stroke-width="1.15" stroke-linejoin="round"/>
<text x="276.1" y="162.3" font-size="8.0" font-weight="bold" fill="#3572b8">52 ppm</text>
<text transform="translate(276.3,249.0) scale(0.92,1)" font-size="10" fill="#1a1a1a" stroke="#1a1a1a" stroke-width="0.12">e)</text>
<text x="368.3" y="163.0" fill="#121212" stroke="#121212" stroke-width="0.12"><tspan font-style="italic">Đ</tspan>(<tspan font-weight="bold">PMMA</tspan>)=1.55</text>
<text x="368.8" y="179.9" fill="#e32626" stroke="#e32626" stroke-width="0.12"><tspan font-style="italic">Đ</tspan>(<tspan font-weight="bold">PMMA</tspan>-<tspan font-style="italic">b</tspan>-<tspan font-weight="bold">PS</tspan>)=1.49</text>
<text x="369.0" y="196.6" fill="#121212" stroke="#121212" stroke-width="0.12"><tspan font-style="italic">P</tspan><tspan font-style="italic" font-size="4.9" dy="1.5">n</tspan><tspan dy="-1.5">(</tspan><tspan font-weight="bold">PMMA</tspan>)=190</text>
<text x="369.0" y="212.6" fill="#e32626" stroke="#e32626" stroke-width="0.12"><tspan font-style="italic">P</tspan><tspan font-style="italic" font-size="4.9" dy="1.5">n</tspan><tspan dy="-1.5">(</tspan><tspan font-style="italic">b</tspan>-<tspan font-weight="bold">PS</tspan>)=63</text>
<line x1="461.60" y1="266.50" x2="613.85" y2="266.50" stroke="#484848" stroke-width="1"/>
<line x1="481.50" y1="266.50" x2="481.50" y2="269.10" stroke="#484848" stroke-width="0.9"/>
<line x1="512.50" y1="266.50" x2="512.50" y2="269.10" stroke="#484848" stroke-width="0.9"/>
<line x1="542.50" y1="266.50" x2="542.50" y2="269.10" stroke="#484848" stroke-width="0.9"/>
<line x1="573.50" y1="266.50" x2="573.50" y2="269.10" stroke="#484848" stroke-width="0.9"/>
<line x1="603.50" y1="266.50" x2="603.50" y2="269.10" stroke="#484848" stroke-width="0.9"/>
<line x1="466.50" y1="266.50" x2="466.50" y2="268.30" stroke="#484848" stroke-width="0.8"/>
<line x1="497.50" y1="266.50" x2="497.50" y2="268.30" stroke="#484848" stroke-width="0.8"/>
<line x1="527.50" y1="266.50" x2="527.50" y2="268.30" stroke="#484848" stroke-width="0.8"/>
<line x1="558.50" y1="266.50" x2="558.50" y2="268.30" stroke="#484848" stroke-width="0.8"/>
<line x1="588.50" y1="266.50" x2="588.50" y2="268.30" stroke="#484848" stroke-width="0.8"/>
<text x="481.90" y="277.00" font-size="8.4" fill="#1e1e1e" stroke="#1e1e1e" stroke-width="0.08" text-anchor="middle">9</text>
<text x="512.35" y="277.00" font-size="8.4" fill="#1e1e1e" stroke="#1e1e1e" stroke-width="0.08" text-anchor="middle">12</text>
<text x="542.80" y="277.00" font-size="8.4" fill="#1e1e1e" stroke="#1e1e1e" stroke-width="0.08" text-anchor="middle">15</text>
<text x="573.25" y="277.00" font-size="8.4" fill="#1e1e1e" stroke="#1e1e1e" stroke-width="0.08" text-anchor="middle">18</text>
<text x="603.70" y="277.00" font-size="8.4" fill="#1e1e1e" stroke="#1e1e1e" stroke-width="0.08" text-anchor="middle">21</text>
<path d="M461.6,265.1 462.2,265.1 462.8,265.1 463.4,265.1 464.0,265.1 464.6,265.1 465.2,265.1 465.8,265.1 466.4,265.1 467.0,265.1 467.6,265.1 468.2,265.1 468.8,265.1 469.4,265.1 470.0,265.1 470.6,265.1 471.2,265.1 471.8,265.1 472.4,265.1 473.0,265.1 473.6,265.1 474.2,265.1 474.8,265.1 475.4,265.1 476.0,265.1 476.6,265.1 477.2,265.1 477.8,265.1 478.4,265.1 479.0,265.1 479.6,265.1 480.2,265.1 480.8,265.1 481.4,265.1 482.0,265.1 482.6,265.1 483.2,265.1 483.8,265.1 484.4,265.1 485.0,265.1 485.6,265.1 486.2,265.1 486.8,265.1 487.4,265.1 488.0,265.1 488.6,265.1 489.2,265.1 489.8,265.1 490.4,265.1 491.0,265.1 491.6,265.1 492.2,265.1 492.8,265.1 493.4,265.1 494.0,265.1 494.6,265.1 495.2,265.1 495.8,265.1 496.4,265.1 497.0,265.1 497.6,265.1 498.2,265.1 498.8,265.1 499.4,265.1 500.0,265.1 500.6,265.1 501.2,265.1 501.8,265.1 502.4,265.1 503.0,265.1 503.6,265.1 504.2,265.1 504.8,265.1 505.4,265.1 506.0,265.1 506.6,265.1 507.2,265.1 507.8,265.1 508.4,265.1 509.0,265.1 509.6,265.1 510.2,265.1 510.8,265.1 511.4,265.1 512.0,265.1 512.6,265.1 513.2,265.1 513.8,265.1 514.4,265.1 515.0,265.1 515.6,265.0 516.2,265.0 516.8,265.0 517.4,265.0 518.0,265.0 518.6,265.0 519.2,265.0 519.8,265.0 520.4,265.0 521.0,265.0 521.6,265.0 522.2,265.0 522.8,265.0 523.4,265.0 524.0,265.0 524.6,265.0 525.2,265.0 525.8,265.0 526.4,265.0 527.0,265.0 527.6,264.9 528.2,264.9 528.8,264.9 529.4,264.9 530.0,264.9 530.6,264.9 531.2,264.9 531.8,264.9 532.4,264.9 533.0,264.9 533.6,264.9 534.2,264.9 534.8,264.9 535.4,264.8 536.0,264.8 536.6,264.8 537.2,264.8 537.9,264.8 538.5,264.8 539.1,264.8 539.7,264.8 540.3,264.8 540.9,264.8 541.5,264.7 542.1,264.7 542.7,264.7 543.3,264.7 543.9,264.7 544.5,264.7 545.1,264.6 545.7,264.5 546.3,264.4 546.9,264.3 547.5,264.2 548.1,264.0 548.7,263.8 549.3,263.6 549.9,263.4 550.5,263.2 551.1,262.8 551.7,262.3 552.3,261.6 552.9,260.7 553.5,259.7 554.1,258.6 554.7,257.0 555.3,254.9 555.9,252.2 556.5,249.2 557.1,245.5 557.7,240.5 558.3,235.5 558.9,231.5 559.5,226.2 560.1,212.4 560.7,205.8 561.3,201.1 561.9,195.0 562.5,188.7 563.1,182.4 563.7,176.6 564.3,171.7 564.9,167.8 565.5,164.8 566.1,162.3 566.7,161.2 567.3,162.3 567.9,164.9 568.5,168.0 569.1,172.0 569.7,176.9 570.3,182.6 570.9,189.1 571.5,196.3 572.1,203.4 572.7,209.6 573.3,223.6 573.9,231.3 574.5,236.5 575.1,240.6 575.7,244.5 576.3,248.6 576.9,252.3 577.5,255.4 578.1,257.5 578.7,259.3 579.3,260.8 579.9,262.1 580.5,262.9 581.1,263.3 581.7,263.5 582.3,263.7 582.9,263.8 583.5,263.9 584.1,264.0 584.7,264.1 585.3,264.1 585.9,264.1 586.5,264.1 587.1,264.2 587.7,264.2 588.3,264.2 588.9,264.2 589.5,264.2 590.1,264.2 590.7,264.3 591.3,264.3 591.9,264.3 592.5,264.3 593.1,264.3 593.7,264.3 594.3,264.3 594.9,264.4 595.5,264.4 596.1,264.4 596.7,264.4 597.3,264.4 597.9,264.4 598.5,264.4 599.1,264.4 599.7,264.4 600.3,264.4 600.9,264.4 601.5,264.4 602.1,264.5 602.7,264.5 603.3,264.5 603.9,264.5 604.5,264.5 605.1,264.5 605.7,264.5 606.3,264.5 606.9,264.5 607.5,264.5 608.1,264.5 608.7,264.5 609.3,264.5 609.9,264.5 610.5,264.5 611.1,264.5 611.7,264.5 612.3,264.5 612.9,264.5" fill="none" stroke="#2a2a2a" stroke-width="0.85" stroke-linejoin="round"/>
<path d="M461.6,265.1 462.2,265.1 462.8,265.1 463.4,265.1 464.0,265.1 464.6,265.1 465.2,265.1 465.8,265.1 466.4,265.1 467.0,265.1 467.6,265.1 468.2,265.1 468.8,265.2 469.4,265.2 470.0,265.2 470.6,265.2 471.2,265.2 471.8,265.2 472.4,265.2 473.0,265.2 473.6,265.2 474.2,265.2 474.8,265.2 475.4,265.2 476.0,265.2 476.6,265.2 477.2,265.2 477.8,265.2 478.4,265.2 479.0,265.2 479.6,265.2 480.2,265.2 480.8,265.2 481.4,265.2 482.0,265.2 482.6,265.2 483.2,265.2 483.8,265.2 484.4,265.2 485.0,265.2 485.6,265.2 486.2,265.2 486.8,265.2 487.4,265.2 488.0,265.2 488.6,265.2 489.2,265.2 489.8,265.2 490.4,265.2 491.0,265.2 491.6,265.2 492.2,265.2 492.8,265.2 493.4,265.2 494.0,265.2 494.6,265.2 495.2,265.2 495.8,265.2 496.4,265.2 497.0,265.2 497.6,265.2 498.2,265.1 498.8,265.1 499.4,265.1 500.0,265.0 500.6,265.0 501.2,265.0 501.8,264.9 502.4,264.9 503.0,264.8 503.6,264.7 504.2,264.7 504.8,264.6 505.4,264.4 506.0,264.2 506.6,263.9 507.2,263.4 507.8,263.0 508.4,262.4 509.0,261.7 509.6,260.8 510.2,259.5 510.8,257.8 511.4,255.6 512.0,252.0 512.6,246.1 513.2,240.2 513.8,234.4 514.4,228.5 515.0,222.3 515.6,215.5 516.2,208.7 516.8,202.8 517.4,197.3 518.0,192.2 518.6,187.6 519.2,183.4 519.8,179.6 520.4,176.1 521.0,172.7 521.6,169.5 522.2,167.3 522.8,165.8 523.4,164.5 524.0,163.3 524.6,162.4 525.2,161.8 525.8,161.6 526.4,161.8 527.0,162.3 527.6,163.1 528.2,164.1 528.8,165.4 529.4,166.7 530.0,168.6 530.6,171.5 531.2,174.9 531.8,178.3 532.4,182.0 533.0,186.0 533.6,190.6 534.2,196.5 534.8,202.4 535.4,206.8 536.0,210.0 536.6,212.9 537.2,215.5 537.9,218.2 538.5,221.2 539.1,224.3 539.7,227.4 540.3,230.3 540.9,232.9 541.5,235.1 542.1,237.2 542.7,239.0 543.3,240.9 543.9,242.7 544.5,244.6 545.1,246.6 545.7,248.3 546.3,249.8 546.9,251.3 547.5,252.6 548.1,253.8 548.7,254.9 549.3,255.7 549.9,256.4 550.5,256.9 551.1,257.5 551.7,258.0 552.3,258.4 552.9,258.7 553.5,259.0 554.1,259.1 554.7,259.2 555.3,259.3 555.9,259.4 556.5,259.5 557.1,259.5 557.7,259.6 558.3,259.6 558.9,259.6 559.5,259.4 560.1,259.1 560.7,258.7 561.3,258.3 561.9,257.9 562.5,257.5 563.1,257.2 563.7,256.8 564.3,256.5 564.9,256.1 565.5,255.8 566.1,255.5 566.7,255.5 567.3,255.6 567.9,255.9 568.5,256.2 569.1,256.6 569.7,257.0 570.3,257.4 570.9,258.0 571.5,258.7 572.1,259.4 572.7,260.2 573.3,260.9 573.9,261.4 574.5,261.8 575.1,261.9 575.7,262.1 576.3,262.2 576.9,262.3 577.5,262.4 578.1,262.5 578.7,262.5 579.3,262.5 579.9,262.5 580.5,262.4 581.1,262.3 581.7,262.2 582.3,262.0 582.9,261.9 583.5,261.8 584.1,261.7 584.7,261.6 585.3,261.5 585.9,261.5 586.5,261.5 587.1,261.5 587.7,261.5 588.3,261.6 588.9,261.6 589.5,261.6 590.1,261.7 590.7,261.7 591.3,261.8 591.9,262.0 592.5,262.1 593.1,262.3 593.7,262.5 594.3,262.6 594.9,262.7 595.5,262.7 596.1,262.6 596.7,262.5 597.3,262.4 597.9,262.3 598.5,262.2 599.1,262.2 599.7,262.3 600.3,262.5 600.9,262.7 601.5,262.9 602.1,263.1 602.7,263.3 603.3,263.5 603.9,263.7 604.5,263.8 605.1,263.9 605.7,263.9 606.3,264.0 606.9,264.0 607.5,264.1 608.1,264.1 608.7,264.2 609.3,264.2 609.9,264.2 610.5,264.3 611.1,264.3 611.7,264.3 612.3,264.3 612.9,264.3" fill="none" stroke="#e02a2a" stroke-width="0.85" stroke-linejoin="round"/>
<text x="461.8" y="162.3" font-size="8.0" font-weight="bold" fill="#3572b8">52 ppm</text>
<text transform="translate(468.7,252.5) scale(0.92,1)" font-size="10" fill="#1a1a1a" stroke="#1a1a1a" stroke-width="0.12">f)</text>
<text x="601.4" y="163.0" fill="#121212" stroke="#121212" stroke-width="0.12"><tspan font-style="italic">Đ</tspan>(<tspan font-weight="bold">PS</tspan>)=1.21</text>
<text x="601.4" y="179.8" fill="#e32626" stroke="#e32626" stroke-width="0.12"><tspan font-style="italic">Đ</tspan>(<tspan font-weight="bold">PS</tspan>-<tspan font-style="italic">b</tspan>-<tspan font-weight="bold">PMMA</tspan>)=3.65</text>
<text x="601.4" y="196.6" fill="#121212" stroke="#121212" stroke-width="0.12"><tspan font-style="italic">P</tspan><tspan font-style="italic" font-size="4.9" dy="1.5">n</tspan><tspan dy="-1.5">(</tspan><tspan font-weight="bold">PS</tspan>)=29</text>
<text x="601.4" y="213.1" fill="#e32626" stroke="#e32626" stroke-width="0.12"><tspan font-style="italic">P</tspan><tspan font-style="italic" font-size="4.9" dy="1.5">n</tspan><tspan dy="-1.5">(</tspan><tspan font-style="italic">b</tspan>-<tspan font-weight="bold">PMMA</tspan>)=665</text>
<line x1="79.14" y1="429.50" x2="230.70" y2="429.50" stroke="#484848" stroke-width="1"/>
<line x1="113.50" y1="429.50" x2="113.50" y2="432.10" stroke="#484848" stroke-width="0.9"/>
<line x1="149.50" y1="429.50" x2="149.50" y2="432.10" stroke="#484848" stroke-width="0.9"/>
<line x1="185.50" y1="429.50" x2="185.50" y2="432.10" stroke="#484848" stroke-width="0.9"/>
<line x1="221.50" y1="429.50" x2="221.50" y2="432.10" stroke="#484848" stroke-width="0.9"/>
<line x1="95.50" y1="429.50" x2="95.50" y2="431.30" stroke="#484848" stroke-width="0.8"/>
<line x1="131.50" y1="429.50" x2="131.50" y2="431.30" stroke="#484848" stroke-width="0.8"/>
<line x1="167.50" y1="429.50" x2="167.50" y2="431.30" stroke="#484848" stroke-width="0.8"/>
<line x1="203.50" y1="429.50" x2="203.50" y2="431.30" stroke="#484848" stroke-width="0.8"/>
<text x="113.70" y="440.00" font-size="8.4" fill="#1e1e1e" stroke="#1e1e1e" stroke-width="0.08" text-anchor="middle">12</text>
<text x="149.70" y="440.00" font-size="8.4" fill="#1e1e1e" stroke="#1e1e1e" stroke-width="0.08" text-anchor="middle">14</text>
<text x="185.70" y="440.00" font-size="8.4" fill="#1e1e1e" stroke="#1e1e1e" stroke-width="0.08" text-anchor="middle">16</text>
<text x="221.70" y="440.00" font-size="8.4" fill="#1e1e1e" stroke="#1e1e1e" stroke-width="0.08" text-anchor="middle">18</text>
<path d="M79.2,415.9 79.8,415.9 80.4,415.9 81.0,415.9 81.6,415.9 82.2,415.9 82.8,415.9 83.4,415.9 84.0,416.0 84.6,416.0 85.2,416.0 85.8,416.0 86.4,416.0 87.0,416.0 87.6,416.0 88.2,416.0 88.8,416.0 89.4,416.0 90.0,416.0 90.6,416.0 91.2,416.0 91.8,416.0 92.5,416.0 93.1,416.0 93.7,416.0 94.3,416.0 94.9,416.0 95.5,416.0 96.1,416.0 96.7,416.0 97.3,416.0 97.9,416.0 98.5,416.0 99.1,416.0 99.7,416.0 100.3,416.0 100.9,416.0 101.5,416.0 102.1,416.0 102.7,416.0 103.3,416.0 103.9,416.0 104.5,416.0 105.1,416.0 105.7,416.0 106.3,416.0 106.9,415.9 107.5,415.9 108.1,415.9 108.7,415.9 109.3,415.9 109.9,415.9 110.5,415.9 111.1,415.9 111.7,415.9 112.3,415.8 112.9,415.8 113.5,415.8 114.1,415.8 114.7,415.8 115.3,415.8 115.9,415.8 116.5,415.8 117.1,415.8 117.8,415.7 118.4,415.7 119.0,415.7 119.6,415.7 120.2,415.7 120.8,415.7 121.4,415.7 122.0,415.7 122.6,415.7 123.2,415.7 123.8,415.6 124.4,415.6 125.0,415.6 125.6,415.6 126.2,415.6 126.8,415.6 127.4,415.6 128.0,415.6 128.6,415.6 129.2,415.6 129.8,415.6 130.4,415.6 131.0,415.6 131.6,415.5 132.2,415.5 132.8,415.5 133.4,415.5 134.0,415.5 134.6,415.5 135.2,415.5 135.8,415.4 136.4,415.4 137.0,415.4 137.6,415.4 138.2,415.3 138.8,415.2 139.4,415.1 140.0,415.0 140.6,414.9 141.2,414.7 141.8,414.6 142.4,414.4 143.1,414.2 143.7,414.0 144.3,413.8 144.9,413.5 145.5,413.3 146.1,412.9 146.7,412.4 147.3,411.7 147.9,411.0 148.5,410.1 149.1,409.1 149.7,408.0 150.3,406.8 150.9,405.3 151.5,403.2 152.1,400.8 152.7,398.1 153.3,395.1 153.9,392.0 154.5,388.4 155.1,384.2 155.7,379.8 156.3,375.2 156.9,370.2 157.5,364.9 158.1,359.5 158.7,354.3 159.3,350.0 159.9,346.3 160.5,342.8 161.1,339.3 161.7,335.6 162.3,332.1 162.9,328.8 163.5,325.6 164.1,322.4 164.7,319.7 165.3,317.7 165.9,316.2 166.5,314.9 167.1,313.9 167.7,313.4 168.4,313.6 169.0,314.4 169.6,315.5 170.2,317.0 170.8,318.5 171.4,320.7 172.0,323.5 172.6,326.6 173.2,330.0 173.8,334.0 174.4,338.4 175.0,342.6 175.6,346.8 176.2,351.2 176.8,356.0 177.4,361.1 178.0,365.8 178.6,370.3 179.2,374.4 179.8,377.8 180.4,380.9 181.0,383.7 181.6,386.4 182.2,388.8 182.8,390.9 183.4,392.6 184.0,394.1 184.6,395.3 185.2,396.5 185.8,397.5 186.4,398.5 187.0,399.4 187.6,400.3 188.2,401.0 188.8,401.8 189.4,402.4 190.0,403.1 190.6,403.7 191.2,404.4 191.8,405.0 192.4,405.6 193.0,406.1 193.7,406.7 194.3,407.2 194.9,407.7 195.5,408.2 196.1,408.6 196.7,409.1 197.3,409.5 197.9,409.8 198.5,410.2 199.1,410.5 199.7,410.8 200.3,411.1 200.9,411.4 201.5,411.7 202.1,411.9 202.7,412.2 203.3,412.5 203.9,412.7 204.5,412.9 205.1,413.1 205.7,413.3 206.3,413.5 206.9,413.7 207.5,413.8 208.1,414.0 208.7,414.1 209.3,414.1 209.9,414.2 210.5,414.3 211.1,414.4 211.7,414.4 212.3,414.5 212.9,414.6 213.5,414.6 214.1,414.7 214.7,414.7 215.3,414.8 215.9,414.8 216.5,414.9 217.1,414.9 217.7,415.0 218.3,415.0 219.0,415.0 219.6,415.0 220.2,415.1 220.8,415.1 221.4,415.1 222.0,415.2 222.6,415.2 223.2,415.2 223.8,415.2 224.4,415.2 225.0,415.3 225.6,415.3 226.2,415.3 226.8,415.3 227.4,415.3 228.0,415.4 228.6,415.4 229.2,415.4 229.8,415.4 230.4,415.4 231.0,415.4 231.6,415.4" fill="none" stroke="#121212" stroke-width="1.15" stroke-linejoin="round"/>
<path d="M79.2,421.0 79.8,421.0 80.4,421.1 81.0,421.1 81.6,421.1 82.2,421.1 82.8,421.2 83.4,421.2 84.0,421.2 84.6,421.2 85.2,421.3 85.8,421.3 86.4,421.3 87.0,421.4 87.6,421.4 88.2,421.4 88.8,421.4 89.4,421.4 90.0,421.5 90.6,421.5 91.2,421.5 91.8,421.5 92.5,421.6 93.1,421.6 93.7,421.6 94.3,421.6 94.9,421.6 95.5,421.7 96.1,421.7 96.7,421.7 97.3,421.7 97.9,421.7 98.5,421.8 99.1,421.8 99.7,421.8 100.3,421.8 100.9,421.8 101.5,421.8 102.1,421.9 102.7,421.9 103.3,421.9 103.9,421.9 104.5,421.9 105.1,421.9 105.7,422.0 106.3,422.0 106.9,422.0 107.5,422.0 108.1,422.0 108.7,422.0 109.3,422.0 109.9,422.1 110.5,422.1 111.1,422.1 111.7,422.1 112.3,422.1 112.9,422.1 113.5,422.1 114.1,422.1 114.7,422.2 115.3,422.2 115.9,422.2 116.5,422.2 117.1,422.2 117.8,422.2 118.4,422.2 119.0,422.2 119.6,422.2 120.2,422.2 120.8,422.2 121.4,422.2 122.0,422.1 122.6,422.1 123.2,422.1 123.8,422.0 124.4,422.0 125.0,421.9 125.6,421.8 126.2,421.7 126.8,421.6 127.4,421.5 128.0,421.4 128.6,421.2 129.2,421.0 129.8,420.6 130.4,420.0 131.0,419.3 131.6,418.5 132.2,417.7 132.8,416.7 133.4,415.4 134.0,413.6 134.6,411.6 135.2,409.4 135.8,407.3 136.4,405.1 137.0,402.9 137.6,400.6 138.2,398.1 138.8,395.6 139.4,393.0 140.0,390.3 140.6,387.6 141.2,384.7 141.8,381.6 142.4,378.3 143.1,374.4 143.7,369.7 144.3,365.3 144.9,361.8 145.5,358.7 146.1,355.7 146.7,352.5 147.3,349.2 147.9,345.7 148.5,342.3 149.1,339.1 149.7,336.0 150.3,333.0 150.9,330.2 151.5,327.6 152.1,325.0 152.7,322.4 153.3,320.1 153.9,318.4 154.5,317.3 155.1,316.4 155.7,315.6 156.3,315.0 156.9,314.5 157.5,314.3 158.1,314.4 158.7,314.7 159.3,315.2 159.9,315.9 160.5,316.7 161.1,317.7 161.7,319.0 162.3,320.9 162.9,323.3 163.5,325.9 164.1,328.5 164.7,331.1 165.3,333.9 165.9,337.0 166.5,340.3 167.1,344.2 167.7,348.5 168.4,352.6 169.0,356.1 169.6,359.4 170.2,363.0 170.8,367.4 171.4,372.1 172.0,376.6 172.6,380.7 173.2,384.8 173.8,388.7 174.4,392.4 175.0,395.6 175.6,398.8 176.2,401.9 176.8,404.7 177.4,407.0 178.0,409.0 178.6,410.6 179.2,412.1 179.8,413.5 180.4,414.7 181.0,415.8 181.6,416.6 182.2,417.2 182.8,417.7 183.4,418.1 184.0,418.5 184.6,418.9 185.2,419.3 185.8,419.6 186.4,419.9 187.0,420.2 187.6,420.4 188.2,420.6 188.8,420.8 189.4,421.0 190.0,421.2 190.6,421.3 191.2,421.5 191.8,421.6 192.4,421.8 193.0,421.9 193.7,422.0 194.3,422.1 194.9,422.2 195.5,422.3 196.1,422.4 196.7,422.5 197.3,422.6 197.9,422.7 198.5,422.8 199.1,422.9 199.7,423.0 200.3,423.1 200.9,423.1 201.5,423.2 202.1,423.3 202.7,423.4 203.3,423.4 203.9,423.5 204.5,423.6 205.1,423.6 205.7,423.7 206.3,423.8 206.9,423.8 207.5,423.9 208.1,424.0 208.7,424.0 209.3,424.1 209.9,424.1 210.5,424.2 211.1,424.3 211.7,424.3 212.3,424.4 212.9,424.4 213.5,424.5 214.1,424.5 214.7,424.6 215.3,424.6 215.9,424.7 216.5,424.7 217.1,424.8 217.7,424.8 218.3,424.9 219.0,424.9 219.6,425.0 220.2,425.1 220.8,425.1 221.4,425.2 222.0,425.2 222.6,425.3 223.2,425.3 223.8,425.4 224.4,425.4 225.0,425.5 225.6,425.5 226.2,425.6 226.8,425.6 227.4,425.7 228.0,425.7 228.6,425.8 229.2,425.8 229.8,425.9 230.4,425.9 231.0,426.0 231.6,426.0" fill="none" stroke="#e02a2a" stroke-width="1.15" stroke-linejoin="round"/>
<text x="85.8" y="319.7" font-size="8.0" font-weight="bold" fill="#3db535">31 ppm</text>
<text transform="translate(85.1,407.5) scale(0.92,1)" font-size="10" fill="#1a1a1a" stroke="#1a1a1a" stroke-width="0.12">g)</text>
<text x="181.6" y="321.7" fill="#121212" stroke="#121212" stroke-width="0.12"><tspan font-style="italic">Đ</tspan>(<tspan font-weight="bold">PMMA</tspan>)=1.24</text>
<text x="181.6" y="337.0" fill="#e32626" stroke="#e32626" stroke-width="0.12"><tspan font-style="italic">Đ</tspan>(<tspan font-weight="bold">PMMA</tspan>-<tspan font-style="italic">b</tspan>-<tspan font-weight="bold">PMMA</tspan>)=1.41</text>
<text x="181.6" y="350.7" fill="#121212" stroke="#121212" stroke-width="0.12"><tspan font-style="italic">P</tspan><tspan font-style="italic" font-size="4.9" dy="1.5">n</tspan><tspan dy="-1.5">(</tspan><tspan font-weight="bold">PMMA</tspan>)=180</text>
<text x="181.6" y="365.8" fill="#e32626" stroke="#e32626" stroke-width="0.12"><tspan font-style="italic">P</tspan><tspan font-style="italic" font-size="4.9" dy="1.5">n</tspan><tspan dy="-1.5">(</tspan><tspan font-style="italic">b</tspan>-<tspan font-weight="bold">PMMA</tspan>)=133</text>
<line x1="269.00" y1="429.50" x2="421.55" y2="429.50" stroke="#484848" stroke-width="1"/>
<line x1="269.50" y1="429.50" x2="269.50" y2="432.10" stroke="#484848" stroke-width="0.9"/>
<line x1="302.50" y1="429.50" x2="302.50" y2="432.10" stroke="#484848" stroke-width="0.9"/>
<line x1="336.50" y1="429.50" x2="336.50" y2="432.10" stroke="#484848" stroke-width="0.9"/>
<line x1="370.50" y1="429.50" x2="370.50" y2="432.10" stroke="#484848" stroke-width="0.9"/>
<line x1="404.50" y1="429.50" x2="404.50" y2="432.10" stroke="#484848" stroke-width="0.9"/>
<line x1="285.50" y1="429.50" x2="285.50" y2="431.30" stroke="#484848" stroke-width="0.8"/>
<line x1="319.50" y1="429.50" x2="319.50" y2="431.30" stroke="#484848" stroke-width="0.8"/>
<line x1="353.50" y1="429.50" x2="353.50" y2="431.30" stroke="#484848" stroke-width="0.8"/>
<line x1="387.50" y1="429.50" x2="387.50" y2="431.30" stroke="#484848" stroke-width="0.8"/>
<line x1="421.50" y1="429.50" x2="421.50" y2="431.30" stroke="#484848" stroke-width="0.8"/>
<text x="269.00" y="440.00" font-size="8.4" fill="#1e1e1e" stroke="#1e1e1e" stroke-width="0.08" text-anchor="middle">10</text>
<text x="302.90" y="440.00" font-size="8.4" fill="#1e1e1e" stroke="#1e1e1e" stroke-width="0.08" text-anchor="middle">12</text>
<text x="336.80" y="440.00" font-size="8.4" fill="#1e1e1e" stroke="#1e1e1e" stroke-width="0.08" text-anchor="middle">14</text>
<text x="370.70" y="440.00" font-size="8.4" fill="#1e1e1e" stroke="#1e1e1e" stroke-width="0.08" text-anchor="middle">16</text>
<text x="404.60" y="440.00" font-size="8.4" fill="#1e1e1e" stroke="#1e1e1e" stroke-width="0.08" text-anchor="middle">18</text>
<path d="M269.0,418.9 269.6,418.9 270.2,418.9 270.8,418.9 271.4,418.9 272.0,418.9 272.6,418.9 273.2,418.9 273.8,418.9 274.4,418.9 275.0,418.9 275.6,418.9 276.2,418.9 276.8,418.9 277.4,418.9 278.0,418.9 278.6,418.9 279.2,418.9 279.8,418.9 280.4,418.9 281.0,418.9 281.6,418.9 282.2,418.9 282.8,418.9 283.4,418.9 284.0,418.9 284.6,418.9 285.2,418.9 285.8,418.9 286.4,418.9 287.0,418.9 287.6,418.9 288.2,418.9 288.8,418.9 289.4,418.9 290.0,418.9 290.6,418.9 291.2,418.9 291.8,418.9 292.4,418.9 293.0,418.9 293.6,418.9 294.2,418.9 294.8,418.9 295.4,418.9 296.0,418.9 296.6,418.9 297.2,418.9 297.8,418.9 298.4,418.9 299.0,418.9 299.6,418.9 300.2,418.9 300.8,418.9 301.4,418.9 302.0,418.9 302.6,418.9 303.2,418.9 303.8,418.9 304.4,418.9 305.0,418.9 305.6,418.9 306.2,418.9 306.8,418.9 307.4,418.9 308.0,418.9 308.6,418.9 309.2,418.9 309.8,418.9 310.4,418.9 311.0,418.9 311.6,418.9 312.2,418.9 312.8,418.9 313.4,418.9 314.0,418.9 314.6,418.9 315.2,418.9 315.8,418.9 316.4,418.9 317.0,418.9 317.6,418.9 318.2,418.9 318.8,418.9 319.4,418.9 320.0,418.9 320.6,418.9 321.2,418.9 321.8,418.9 322.4,418.9 323.0,418.9 323.6,418.9 324.2,418.9 324.8,418.9 325.4,418.9 326.0,418.9 326.6,418.9 327.2,418.9 327.8,418.9 328.4,418.8 329.0,418.6 329.6,418.4 330.2,418.2 330.8,417.8 331.4,417.5 332.0,417.1 332.6,416.6 333.2,416.1 333.8,415.3 334.4,414.2 335.0,412.9 335.6,411.5 336.2,409.9 336.8,408.2 337.4,406.5 338.0,404.7 338.6,402.8 339.2,400.7 339.8,398.3 340.4,395.6 341.0,392.5 341.6,388.3 342.2,382.6 342.8,376.7 343.4,371.8 344.0,367.1 344.6,362.4 345.2,357.7 345.8,353.1 346.4,348.7 347.0,344.4 347.6,340.7 348.2,337.5 348.8,334.5 349.4,332.0 350.0,330.2 350.6,328.8 351.2,327.6 351.8,326.5 352.4,325.6 353.0,325.1 353.6,324.9 354.2,325.3 354.8,326.3 355.4,327.6 356.0,329.1 356.6,330.8 357.2,333.3 357.8,336.4 358.4,340.1 359.0,344.6 359.6,349.9 360.2,354.6 360.8,358.9 361.4,362.8 362.0,366.2 362.6,369.3 363.2,372.6 363.8,376.4 364.4,380.5 365.0,384.5 365.6,387.8 366.2,390.3 366.8,392.7 367.4,394.9 368.0,397.0 368.6,398.8 369.2,400.5 369.8,401.8 370.4,403.0 371.0,404.0 371.6,404.8 372.2,405.7 372.8,406.4 373.4,407.1 374.0,407.7 374.6,408.3 375.2,408.9 375.8,409.4 376.4,409.9 377.0,410.5 377.6,411.0 378.2,411.5 378.8,412.0 379.4,412.6 380.0,413.1 380.6,413.5 381.2,414.0 381.8,414.5 382.4,414.9 383.0,415.2 383.6,415.6 384.2,415.9 384.8,416.2 385.4,416.4 386.0,416.6 386.6,416.7 387.2,416.8 387.8,417.0 388.4,417.1 389.0,417.2 389.6,417.3 390.2,417.4 390.8,417.5 391.4,417.5 392.0,417.6 392.6,417.7 393.2,417.8 393.8,417.9 394.4,417.9 395.0,418.0 395.6,418.1 396.2,418.2 396.8,418.3 397.4,418.4 398.0,418.5 398.6,418.6 399.2,418.7 399.8,418.8 400.4,418.8 401.0,418.9 401.6,419.0 402.2,419.1 402.8,419.1 403.4,419.2 404.0,419.2 404.6,419.3 405.2,419.3 405.8,419.3 406.4,419.3 407.0,419.3 407.6,419.3 408.2,419.3 408.8,419.3 409.4,419.3 410.0,419.3 410.6,419.3 411.2,419.3 411.8,419.2 412.4,419.2 413.0,419.2 413.6,419.2 414.2,419.1 414.8,419.1 415.4,419.1 416.0,419.0 416.6,419.0 417.2,418.9 417.8,418.9 418.4,418.8 419.0,418.7 419.6,418.7 420.2,418.6 420.8,418.5" fill="none" stroke="#121212" stroke-width="1.15" stroke-linejoin="round"/>
<path d="M269.0,423.8 269.6,423.8 270.2,423.9 270.8,423.9 271.4,423.9 272.0,423.9 272.6,424.0 273.2,424.0 273.8,424.0 274.4,424.0 275.0,424.1 275.6,424.1 276.2,424.1 276.8,424.1 277.4,424.2 278.0,424.2 278.6,424.2 279.2,424.2 279.8,424.2 280.4,424.3 281.0,424.3 281.6,424.3 282.2,424.3 282.8,424.3 283.4,424.3 284.0,424.3 284.6,424.4 285.2,424.4 285.8,424.4 286.4,424.4 287.0,424.4 287.6,424.4 288.2,424.4 288.8,424.4 289.4,424.4 290.0,424.4 290.6,424.4 291.2,424.4 291.8,424.4 292.4,424.4 293.0,424.4 293.6,424.4 294.2,424.4 294.8,424.4 295.4,424.4 296.0,424.4 296.6,424.4 297.2,424.4 297.8,424.4 298.4,424.4 299.0,424.4 299.6,424.4 300.2,424.4 300.8,424.4 301.4,424.4 302.0,424.4 302.6,424.3 303.2,424.3 303.8,424.3 304.4,424.2 305.0,424.2 305.6,424.1 306.2,423.9 306.8,423.7 307.4,423.5 308.0,423.2 308.6,422.9 309.2,422.5 309.8,422.1 310.4,421.6 311.0,420.7 311.6,419.4 312.2,417.9 312.8,416.3 313.4,414.6 314.0,412.9 314.6,411.1 315.2,409.0 315.8,406.8 316.4,404.5 317.0,402.2 317.6,399.8 318.2,397.4 318.8,395.0 319.4,392.4 320.0,389.6 320.6,386.7 321.2,383.5 321.8,379.5 322.4,375.6 323.0,372.3 323.6,369.3 324.2,366.4 324.8,363.4 325.4,360.2 326.0,356.7 326.6,353.3 327.2,350.0 327.8,346.8 328.4,343.6 329.0,340.7 329.6,338.0 330.2,335.3 330.8,332.7 331.4,330.4 332.0,328.6 332.6,327.5 333.2,326.7 333.8,325.9 334.4,325.2 335.0,324.7 335.6,324.3 336.2,324.1 336.8,324.1 337.4,324.3 338.0,324.7 338.6,325.2 339.2,325.9 339.8,326.7 340.4,327.5 341.0,328.6 341.6,330.4 342.2,332.8 342.8,335.4 343.4,338.0 344.0,340.5 344.6,343.1 345.2,345.8 345.8,348.6 346.4,351.4 347.0,354.2 347.6,357.1 348.2,360.0 348.8,362.9 349.4,365.9 350.0,369.0 350.6,372.1 351.2,375.0 351.8,377.8 352.4,380.4 353.0,383.0 353.6,385.6 354.2,388.1 354.8,390.6 355.4,393.2 356.0,395.7 356.6,398.1 357.2,400.4 357.8,402.7 358.4,404.7 359.0,406.7 359.6,408.7 360.2,410.6 360.8,412.4 361.4,414.1 362.0,415.6 362.6,416.8 363.2,417.7 363.8,418.4 364.4,419.2 365.0,419.8 365.6,420.4 366.2,421.0 366.8,421.5 367.4,421.9 368.0,422.3 368.6,422.6 369.2,422.9 369.8,423.1 370.4,423.3 371.0,423.5 371.6,423.7 372.2,423.9 372.8,424.0 373.4,424.2 374.0,424.3 374.6,424.5 375.2,424.6 375.8,424.8 376.4,424.9 377.0,425.0 377.6,425.1 378.2,425.2 378.8,425.3 379.4,425.4 380.0,425.5 380.6,425.5 381.2,425.6 381.8,425.7 382.4,425.7 383.0,425.8 383.6,425.8 384.2,425.9 384.8,426.0 385.4,426.0 386.0,426.1 386.6,426.1 387.2,426.2 387.8,426.2 388.4,426.2 389.0,426.3 389.6,426.3 390.2,426.4 390.8,426.4 391.4,426.4 392.0,426.5 392.6,426.5 393.2,426.5 393.8,426.6 394.4,426.6 395.0,426.6 395.6,426.7 396.2,426.7 396.8,426.7 397.4,426.8 398.0,426.8 398.6,426.8 399.2,426.8 399.8,426.9 400.4,426.9 401.0,426.9 401.6,427.0 402.2,427.0 402.8,427.0 403.4,427.0 404.0,427.1 404.6,427.1 405.2,427.1 405.8,427.2 406.4,427.2 407.0,427.2 407.6,427.2 408.2,427.3 408.8,427.3 409.4,427.3 410.0,427.3 410.6,427.4 411.2,427.4 411.8,427.4 412.4,427.4 413.0,427.5 413.6,427.5 414.2,427.5 414.8,427.5 415.4,427.5 416.0,427.6 416.6,427.6 417.2,427.6 417.8,427.6 418.4,427.6 419.0,427.7 419.6,427.7 420.2,427.7 420.8,427.7" fill="none" stroke="#e02a2a" stroke-width="1.15" stroke-linejoin="round"/>
<text x="276.1" y="319.7" font-size="8.0" font-weight="bold" fill="#3db535">31 ppm</text>
<text transform="translate(277.2,403.7) scale(0.92,1)" font-size="10" fill="#1a1a1a" stroke="#1a1a1a" stroke-width="0.12">h)</text>
<text x="368.3" y="321.7" fill="#121212" stroke="#121212" stroke-width="0.12"><tspan font-style="italic">Đ</tspan>(<tspan font-weight="bold">PMMA</tspan>)=1.22</text>
<text x="368.3" y="337.0" fill="#e32626" stroke="#e32626" stroke-width="0.12"><tspan font-style="italic">Đ</tspan>(<tspan font-weight="bold">PMMA</tspan>-<tspan font-style="italic">b</tspan>-<tspan font-weight="bold">PBMA</tspan>)=1.88</text>
<text x="368.3" y="350.7" fill="#121212" stroke="#121212" stroke-width="0.12"><tspan font-style="italic">P</tspan><tspan font-style="italic" font-size="4.9" dy="1.5">n</tspan><tspan dy="-1.5">(</tspan><tspan font-weight="bold">PMMA</tspan>)=180</text>
<text x="369.8" y="365.8" fill="#e32626" stroke="#e32626" stroke-width="0.12"><tspan font-style="italic">P</tspan><tspan font-style="italic" font-size="4.9" dy="1.5">n</tspan><tspan dy="-1.5">(</tspan><tspan font-style="italic">b</tspan>-<tspan font-weight="bold">PBMA</tspan>)=139</text>
<line x1="461.60" y1="429.50" x2="612.80" y2="429.50" stroke="#484848" stroke-width="1"/>
<line x1="461.50" y1="429.50" x2="461.50" y2="432.10" stroke="#484848" stroke-width="0.9"/>
<line x1="495.50" y1="429.50" x2="495.50" y2="432.10" stroke="#484848" stroke-width="0.9"/>
<line x1="528.50" y1="429.50" x2="528.50" y2="432.10" stroke="#484848" stroke-width="0.9"/>
<line x1="562.50" y1="429.50" x2="562.50" y2="432.10" stroke="#484848" stroke-width="0.9"/>
<line x1="596.50" y1="429.50" x2="596.50" y2="432.10" stroke="#484848" stroke-width="0.9"/>
<line x1="478.50" y1="429.50" x2="478.50" y2="431.30" stroke="#484848" stroke-width="0.8"/>
<line x1="512.50" y1="429.50" x2="512.50" y2="431.30" stroke="#484848" stroke-width="0.8"/>
<line x1="545.50" y1="429.50" x2="545.50" y2="431.30" stroke="#484848" stroke-width="0.8"/>
<line x1="579.50" y1="429.50" x2="579.50" y2="431.30" stroke="#484848" stroke-width="0.8"/>
<line x1="612.50" y1="429.50" x2="612.50" y2="431.30" stroke="#484848" stroke-width="0.8"/>
<text x="461.60" y="440.00" font-size="8.4" fill="#1e1e1e" stroke="#1e1e1e" stroke-width="0.08" text-anchor="middle">10</text>
<text x="495.20" y="440.00" font-size="8.4" fill="#1e1e1e" stroke="#1e1e1e" stroke-width="0.08" text-anchor="middle">12</text>
<text x="528.80" y="440.00" font-size="8.4" fill="#1e1e1e" stroke="#1e1e1e" stroke-width="0.08" text-anchor="middle">14</text>
<text x="562.40" y="440.00" font-size="8.4" fill="#1e1e1e" stroke="#1e1e1e" stroke-width="0.08" text-anchor="middle">16</text>
<text x="596.00" y="440.00" font-size="8.4" fill="#1e1e1e" stroke="#1e1e1e" stroke-width="0.08" text-anchor="middle">18</text>
<path d="M461.6,425.2 462.2,425.2 462.8,425.2 463.4,425.1 464.0,425.1 464.6,425.1 465.2,425.1 465.8,425.1 466.4,425.0 467.0,425.0 467.6,425.0 468.2,425.0 468.8,425.0 469.4,425.0 470.0,424.9 470.6,424.9 471.2,424.9 471.8,424.9 472.4,424.9 473.0,424.9 473.6,424.9 474.2,424.9 474.8,424.9 475.4,424.8 476.0,424.8 476.6,424.8 477.2,424.8 477.8,424.8 478.4,424.8 479.0,424.8 479.6,424.8 480.2,424.8 480.9,424.8 481.5,424.8 482.1,424.8 482.7,424.8 483.3,424.8 483.9,424.8 484.5,424.8 485.1,424.8 485.7,424.8 486.3,424.8 486.9,424.8 487.5,424.9 488.1,424.9 488.7,424.9 489.3,424.9 489.9,424.9 490.5,424.9 491.1,424.9 491.7,425.0 492.3,425.0 492.9,425.0 493.5,425.0 494.1,425.0 494.7,425.1 495.3,425.1 495.9,425.1 496.5,425.1 497.1,425.2 497.7,425.2 498.3,425.2 498.9,425.2 499.5,425.3 500.1,425.3 500.7,425.3 501.3,425.3 501.9,425.4 502.5,425.4 503.1,425.4 503.7,425.5 504.3,425.5 504.9,425.5 505.5,425.5 506.1,425.6 506.7,425.6 507.3,425.6 507.9,425.6 508.5,425.7 509.1,425.7 509.7,425.7 510.3,425.7 510.9,425.7 511.5,425.8 512.1,425.8 512.7,425.8 513.3,425.8 513.9,425.8 514.5,425.9 515.1,425.9 515.7,425.9 516.3,425.9 516.9,425.9 517.5,425.9 518.1,425.9 518.8,425.9 519.4,425.9 520.0,426.0 520.6,426.0 521.2,426.0 521.8,426.0 522.4,426.0 523.0,426.0 523.6,426.0 524.2,426.0 524.8,426.0 525.4,426.1 526.0,426.1 526.6,426.1 527.2,426.1 527.8,426.1 528.4,426.1 529.0,426.1 529.6,426.1 530.2,426.1 530.8,426.1 531.4,426.1 532.0,426.2 532.6,426.2 533.2,426.2 533.8,426.2 534.4,426.2 535.0,426.2 535.6,426.2 536.2,426.2 536.8,426.2 537.4,426.2 538.0,426.2 538.6,426.2 539.2,426.2 539.8,426.2 540.4,426.2 541.0,426.2 541.6,426.1 542.2,426.0 542.8,425.9 543.4,425.9 544.0,425.8 544.6,425.7 545.2,425.6 545.8,425.5 546.4,425.4 547.0,425.3 547.6,425.2 548.2,425.0 548.8,424.9 549.4,424.7 550.0,424.5 550.6,424.2 551.2,423.8 551.8,423.3 552.4,422.7 553.0,422.1 553.6,421.4 554.2,420.6 554.8,419.9 555.4,419.1 556.0,418.3 556.6,417.5 557.3,416.7 557.9,415.9 558.5,414.9 559.1,414.0 559.7,412.9 560.3,411.8 560.9,410.6 561.5,409.3 562.1,407.8 562.7,406.2 563.3,404.4 563.9,402.5 564.5,400.5 565.1,398.5 565.7,396.6 566.3,394.6 566.9,392.7 567.5,390.8 568.1,388.9 568.7,386.9 569.3,384.9 569.9,382.8 570.5,380.7 571.1,378.6 571.7,376.4 572.3,374.1 572.9,371.8 573.5,369.4 574.1,366.9 574.7,364.3 575.3,361.7 575.9,358.8 576.5,355.8 577.1,352.6 577.7,349.5 578.3,346.5 578.9,343.8 579.5,341.3 580.1,338.9 580.7,336.7 581.3,334.9 581.9,333.6 582.5,332.4 583.1,331.4 583.7,330.9 584.3,331.1 584.9,331.8 585.5,332.9 586.1,334.1 586.7,335.5 587.3,337.2 587.9,339.2 588.5,341.5 589.1,344.0 589.7,347.1 590.3,350.7 590.9,354.5 591.5,358.5 592.1,362.3 592.7,365.9 593.3,369.5 593.9,373.2 594.5,376.9 595.2,380.6 595.8,384.5 596.4,388.5 597.0,392.6 597.6,396.5 598.2,400.0 598.8,403.4 599.4,406.5 600.0,408.9 600.6,410.6 601.2,412.1 601.8,413.4 602.4,414.5 603.0,415.5 603.6,416.4 604.2,417.2 604.8,418.0 605.4,418.7 606.0,419.3 606.6,419.9 607.2,420.4 607.8,420.8 608.4,421.2 609.0,421.6 609.6,422.0 610.2,422.4 610.8,422.7 611.4,423.0 612.0,423.3 612.6,423.5 613.2,423.6 613.8,423.7" fill="none" stroke="#222222" stroke-width="1.00" stroke-linejoin="round"/>
<path d="M461.6,421.4 462.2,421.5 462.8,421.5 463.4,421.6 464.0,421.7 464.6,421.8 465.2,421.9 465.8,421.9 466.4,422.0 467.0,422.1 467.6,422.3 468.2,422.4 468.8,422.6 469.4,422.7 470.0,422.9 470.6,423.0 471.2,423.1 471.8,423.2 472.4,423.2 473.0,423.2 473.6,423.1 474.2,422.9 474.8,422.7 475.4,422.5 476.0,422.3 476.6,422.1 477.2,422.0 477.8,421.8 478.4,421.8 479.0,421.7 479.6,421.6 480.2,421.5 480.9,421.5 481.5,421.4 482.1,421.3 482.7,421.3 483.3,421.2 483.9,421.2 484.5,421.2 485.1,421.2 485.7,421.2 486.3,421.2 486.9,421.2 487.5,421.2 488.1,421.2 488.7,421.2 489.3,421.2 489.9,421.3 490.5,421.3 491.1,421.3 491.7,421.3 492.3,421.3 492.9,421.3 493.5,421.3 494.1,421.4 494.7,421.4 495.3,421.4 495.9,421.4 496.5,421.4 497.1,421.4 497.7,421.4 498.3,421.4 498.9,421.4 499.5,421.3 500.1,421.1 500.7,420.9 501.3,420.7 501.9,420.4 502.5,420.1 503.1,419.7 503.7,419.3 504.3,419.0 504.9,418.5 505.5,418.0 506.1,417.3 506.7,416.6 507.3,415.8 507.9,414.8 508.5,413.8 509.1,412.6 509.7,411.0 510.3,409.1 510.9,406.9 511.5,404.5 512.1,402.0 512.7,399.5 513.3,397.0 513.9,394.4 514.5,391.5 515.1,388.5 515.7,385.6 516.3,382.9 516.9,380.5 517.5,378.4 518.1,376.1 518.8,373.0 519.4,368.5 520.0,363.9 520.6,360.5 521.2,357.7 521.8,355.2 522.4,352.9 523.0,350.7 523.6,348.7 524.2,346.7 524.8,344.8 525.4,342.9 526.0,341.2 526.6,339.7 527.2,338.3 527.8,337.2 528.4,336.1 529.0,335.0 529.6,334.0 530.2,333.1 530.8,332.3 531.4,331.6 532.0,331.1 532.6,330.9 533.2,331.0 533.8,331.3 534.4,331.8 535.0,332.5 535.6,333.4 536.2,334.4 536.8,335.5 537.4,336.7 538.0,337.9 538.6,339.4 539.2,341.2 539.8,343.4 540.4,345.8 541.0,348.5 541.6,351.6 542.2,355.5 542.8,359.6 543.4,363.2 544.0,366.6 544.6,369.9 545.2,373.0 545.8,375.9 546.4,378.6 547.0,381.0 547.6,383.3 548.2,385.5 548.8,387.6 549.4,389.6 550.0,391.4 550.6,393.2 551.2,394.8 551.8,396.3 552.4,397.7 553.0,399.1 553.6,400.4 554.2,401.6 554.8,402.7 555.4,403.7 556.0,404.7 556.6,405.5 557.3,406.3 557.9,407.1 558.5,407.9 559.1,408.6 559.7,409.2 560.3,409.6 560.9,409.9 561.5,409.9 562.1,409.9 562.7,409.8 563.3,409.8 563.9,409.7 564.5,409.6 565.1,409.4 565.7,409.3 566.3,409.1 566.9,409.0 567.5,408.8 568.1,408.6 568.7,408.5 569.3,408.3 569.9,408.1 570.5,407.9 571.1,407.6 571.7,407.3 572.3,407.0 572.9,406.7 573.5,406.3 574.1,406.0 574.7,405.7 575.3,405.3 575.9,405.0 576.5,404.7 577.1,404.4 577.7,404.1 578.3,403.8 578.9,403.5 579.5,403.2 580.1,402.9 580.7,402.7 581.3,402.4 581.9,402.3 582.5,402.2 583.1,402.2 583.7,402.4 584.3,402.7 584.9,403.0 585.5,403.5 586.1,404.0 586.7,404.5 587.3,405.0 587.9,405.7 588.5,406.6 589.1,407.7 589.7,408.9 590.3,410.1 590.9,411.2 591.5,412.3 592.1,413.1 592.7,413.8 593.3,414.5 593.9,415.2 594.5,415.9 595.2,416.5 595.8,417.1 596.4,417.6 597.0,418.1 597.6,418.6 598.2,419.0 598.8,419.4 599.4,419.6 600.0,419.9 600.6,420.1 601.2,420.3 601.8,420.4 602.4,420.6 603.0,420.7 603.6,420.9 604.2,421.0 604.8,421.1 605.4,421.2 606.0,421.3 606.6,421.5 607.2,421.6 607.8,421.7 608.4,421.8 609.0,422.0 609.6,422.1 610.2,422.2 610.8,422.4 611.4,422.5 612.0,422.6 612.6,422.8 613.2,422.9 613.8,423.0" fill="none" stroke="#e02a2a" stroke-width="1.00" stroke-linejoin="round"/>
<text x="461.8" y="319.7" font-size="8.0" font-weight="bold" fill="#3db535">31 ppm</text>
<text transform="translate(468.7,407.0) scale(0.92,1)" font-size="10" fill="#1a1a1a" stroke="#1a1a1a" stroke-width="0.12">i)</text>
<text x="599.6" y="321.7" fill="#121212" stroke="#121212" stroke-width="0.12"><tspan font-style="italic">Đ</tspan>(<tspan font-weight="bold">PS</tspan>)=1.28</text>
<text x="599.6" y="337.0" fill="#e32626" stroke="#e32626" stroke-width="0.12"><tspan font-style="italic">Đ</tspan>(<tspan font-weight="bold">PS</tspan>-<tspan font-style="italic">b</tspan>-<tspan font-weight="bold">PMMA</tspan>)=1.65</text>
<text x="599.6" y="350.5" fill="#121212" stroke="#121212" stroke-width="0.12"><tspan font-style="italic">P</tspan><tspan font-style="italic" font-size="4.9" dy="1.5">n</tspan><tspan dy="-1.5">(</tspan><tspan font-weight="bold">PS</tspan>)=36</text>
<text x="599.6" y="365.3" fill="#e32626" stroke="#e32626" stroke-width="0.12"><tspan font-style="italic">P</tspan><tspan font-style="italic" font-size="4.9" dy="1.5">n</tspan><tspan dy="-1.5">(</tspan><tspan font-style="italic">b</tspan>-<tspan font-weight="bold">PMMA</tspan>)=351</text>
<line x1="79.40" y1="575.50" x2="231.50" y2="575.50" stroke="#484848" stroke-width="1"/>
<line x1="79.50" y1="575.50" x2="79.50" y2="578.10" stroke="#484848" stroke-width="0.9"/>
<line x1="113.50" y1="575.50" x2="113.50" y2="578.10" stroke="#484848" stroke-width="0.9"/>
<line x1="147.50" y1="575.50" x2="147.50" y2="578.10" stroke="#484848" stroke-width="0.9"/>
<line x1="180.50" y1="575.50" x2="180.50" y2="578.10" stroke="#484848" stroke-width="0.9"/>
<line x1="214.50" y1="575.50" x2="214.50" y2="578.10" stroke="#484848" stroke-width="0.9"/>
<line x1="96.50" y1="575.50" x2="96.50" y2="577.30" stroke="#484848" stroke-width="0.8"/>
<line x1="130.50" y1="575.50" x2="130.50" y2="577.30" stroke="#484848" stroke-width="0.8"/>
<line x1="163.50" y1="575.50" x2="163.50" y2="577.30" stroke="#484848" stroke-width="0.8"/>
<line x1="197.50" y1="575.50" x2="197.50" y2="577.30" stroke="#484848" stroke-width="0.8"/>
<line x1="231.50" y1="575.50" x2="231.50" y2="577.30" stroke="#484848" stroke-width="0.8"/>
<text x="79.40" y="586.00" font-size="8.4" fill="#1e1e1e" stroke="#1e1e1e" stroke-width="0.08" text-anchor="middle">10</text>
<text x="113.20" y="586.00" font-size="8.4" fill="#1e1e1e" stroke="#1e1e1e" stroke-width="0.08" text-anchor="middle">12</text>
<text x="147.00" y="586.00" font-size="8.4" fill="#1e1e1e" stroke="#1e1e1e" stroke-width="0.08" text-anchor="middle">14</text>
<text x="180.80" y="586.00" font-size="8.4" fill="#1e1e1e" stroke="#1e1e1e" stroke-width="0.08" text-anchor="middle">16</text>
<text x="214.60" y="586.00" font-size="8.4" fill="#1e1e1e" stroke="#1e1e1e" stroke-width="0.08" text-anchor="middle">18</text>
<path d="M79.4,573.8 80.0,573.8 80.6,573.8 81.2,573.8 81.8,573.8 82.4,573.8 83.0,573.8 83.6,573.8 84.2,573.8 84.8,573.8 85.4,573.8 86.0,573.8 86.6,573.8 87.2,573.8 87.8,573.8 88.4,573.8 89.0,573.8 89.6,573.8 90.2,573.8 90.8,573.8 91.4,573.8 92.0,573.8 92.6,573.8 93.2,573.8 93.8,573.8 94.4,573.8 95.1,573.8 95.7,573.8 96.3,573.8 96.9,573.8 97.5,573.8 98.1,573.8 98.7,573.8 99.3,573.8 99.9,573.8 100.5,573.8 101.1,573.8 101.7,573.8 102.3,573.8 102.9,573.8 103.5,573.8 104.1,573.8 104.7,573.8 105.3,573.8 105.9,573.8 106.5,573.8 107.1,573.8 107.7,573.8 108.3,573.8 108.9,573.8 109.5,573.8 110.1,573.8 110.7,573.8 111.3,573.8 111.9,573.8 112.5,573.8 113.1,573.8 113.7,573.8 114.3,573.8 114.9,573.8 115.5,573.8 116.1,573.8 116.7,573.8 117.3,573.8 117.9,573.8 118.5,573.8 119.1,573.8 119.7,573.8 120.3,573.8 120.9,573.8 121.5,573.8 122.1,573.8 122.7,573.7 123.3,573.7 123.9,573.7 124.5,573.7 125.2,573.6 125.8,573.6 126.4,573.5 127.0,573.5 127.6,573.4 128.2,573.4 128.8,573.3 129.4,573.2 130.0,573.2 130.6,573.1 131.2,573.0 131.8,572.8 132.4,572.6 133.0,572.3 133.6,572.0 134.2,571.6 134.8,571.2 135.4,570.8 136.0,570.3 136.6,569.8 137.2,569.2 137.8,568.4 138.4,567.5 139.0,566.5 139.6,565.4 140.2,564.1 140.8,562.8 141.4,561.4 142.0,559.7 142.6,557.8 143.2,555.7 143.8,553.4 144.4,551.0 145.0,548.5 145.6,545.6 146.2,542.5 146.8,539.4 147.4,536.6 148.0,534.2 148.6,531.8 149.2,528.6 149.8,523.9 150.4,519.0 151.0,515.3 151.6,512.1 152.2,509.1 152.8,506.3 153.4,503.3 154.0,500.4 154.6,497.6 155.2,494.9 155.9,492.3 156.5,489.6 157.1,487.1 157.7,484.9 158.3,483.4 158.9,482.1 159.5,480.9 160.1,480.2 160.7,479.9 161.3,480.2 161.9,481.0 162.5,482.0 163.1,483.3 163.7,484.8 164.3,487.1 164.9,490.1 165.5,493.3 166.1,496.8 166.7,500.8 167.3,504.9 167.9,509.1 168.5,513.4 169.1,517.9 169.7,522.4 170.3,527.2 170.9,532.6 171.5,537.4 172.1,540.9 172.7,544.0 173.3,546.8 173.9,549.2 174.5,551.5 175.1,553.6 175.7,555.6 176.3,557.4 176.9,559.1 177.5,560.6 178.1,561.9 178.7,563.2 179.3,564.4 179.9,565.5 180.5,566.5 181.1,567.3 181.7,568.0 182.3,568.6 182.9,569.1 183.5,569.6 184.1,570.0 184.7,570.4 185.3,570.7 185.9,571.0 186.6,571.3 187.2,571.5 187.8,571.7 188.4,571.9 189.0,572.0 189.6,572.2 190.2,572.3 190.8,572.4 191.4,572.5 192.0,572.6 192.6,572.7 193.2,572.7 193.8,572.8 194.4,572.9 195.0,572.9 195.6,573.0 196.2,573.0 196.8,573.1 197.4,573.1 198.0,573.1 198.6,573.2 199.2,573.2 199.8,573.2 200.4,573.2 201.0,573.2 201.6,573.2 202.2,573.2 202.8,573.2 203.4,573.2 204.0,573.3 204.6,573.3 205.2,573.3 205.8,573.3 206.4,573.3 207.0,573.3 207.6,573.3 208.2,573.3 208.8,573.3 209.4,573.3 210.0,573.3 210.6,573.3 211.2,573.3 211.8,573.3 212.4,573.3 213.0,573.3 213.6,573.3 214.2,573.3 214.8,573.3 215.4,573.4 216.0,573.4 216.7,573.4 217.3,573.4 217.9,573.4 218.5,573.4 219.1,573.4 219.7,573.4 220.3,573.4 220.9,573.4 221.5,573.4 222.1,573.4 222.7,573.4 223.3,573.4 223.9,573.4 224.5,573.4 225.1,573.4 225.7,573.4 226.3,573.4 226.9,573.4 227.5,573.4 228.1,573.4 228.7,573.4 229.3,573.4 229.9,573.4 230.5,573.4 231.1,573.4 231.7,573.4" fill="none" stroke="#121212" stroke-width="1.15" stroke-linejoin="round"/>
<path d="M79.4,573.2 80.0,573.2 80.6,573.2 81.2,573.2 81.8,573.2 82.4,573.2 83.0,573.2 83.6,573.2 84.2,573.1 84.8,573.1 85.4,573.1 86.0,573.1 86.6,573.1 87.2,573.1 87.8,573.1 88.4,573.1 89.0,573.1 89.6,573.1 90.2,573.1 90.8,573.1 91.4,573.1 92.0,573.1 92.6,573.1 93.2,573.1 93.8,573.0 94.4,573.0 95.1,573.0 95.7,573.0 96.3,573.0 96.9,573.0 97.5,573.0 98.1,573.0 98.7,573.0 99.3,573.0 99.9,573.0 100.5,573.0 101.1,573.0 101.7,573.0 102.3,573.0 102.9,573.0 103.5,573.0 104.1,573.0 104.7,573.0 105.3,573.0 105.9,573.0 106.5,573.0 107.1,573.0 107.7,573.0 108.3,573.0 108.9,573.0 109.5,573.0 110.1,573.0 110.7,573.0 111.3,573.0 111.9,573.0 112.5,573.0 113.1,572.9 113.7,572.9 114.3,572.9 114.9,572.9 115.5,572.9 116.1,572.9 116.7,572.9 117.3,572.9 117.9,572.9 118.5,572.9 119.1,572.9 119.7,572.9 120.3,572.9 120.9,572.9 121.5,572.9 122.1,572.8 122.7,572.8 123.3,572.7 123.9,572.7 124.5,572.6 125.2,572.6 125.8,572.5 126.4,572.4 127.0,572.3 127.6,572.2 128.2,572.0 128.8,571.8 129.4,571.5 130.0,571.1 130.6,570.7 131.2,570.3 131.8,569.8 132.4,569.3 133.0,568.7 133.6,567.9 134.2,566.9 134.8,565.8 135.4,564.6 136.0,563.3 136.6,562.0 137.2,560.4 137.8,558.5 138.4,556.4 139.0,554.2 139.6,551.9 140.2,549.5 140.8,546.8 141.4,543.9 142.0,540.8 142.6,537.7 143.2,534.5 143.8,531.1 144.4,527.2 145.0,522.7 145.6,518.4 146.2,514.7 146.8,511.2 147.4,508.0 148.0,504.9 148.6,502.0 149.2,499.2 149.8,496.5 150.4,494.1 151.0,491.7 151.6,489.3 152.2,487.0 152.8,485.1 153.4,483.7 154.0,482.5 154.6,481.4 155.2,480.4 155.9,479.8 156.5,479.6 157.1,479.8 157.7,480.4 158.3,481.2 158.9,482.3 159.5,483.5 160.1,485.0 160.7,487.4 161.3,490.5 161.9,493.8 162.5,497.9 163.1,502.6 163.7,506.9 164.3,511.0 164.9,515.1 165.5,519.2 166.1,523.4 166.7,527.3 167.3,530.7 167.9,533.7 168.5,536.7 169.1,539.8 169.7,543.0 170.3,546.0 170.9,548.9 171.5,551.6 172.1,554.2 172.7,556.7 173.3,558.8 173.9,560.6 174.5,562.1 175.1,563.5 175.7,564.8 176.3,565.8 176.9,566.7 177.5,567.3 178.1,567.9 178.7,568.4 179.3,568.9 179.9,569.3 180.5,569.7 181.1,570.0 181.7,570.3 182.3,570.5 182.9,570.8 183.5,570.9 184.1,571.1 184.7,571.2 185.3,571.4 185.9,571.5 186.6,571.6 187.2,571.7 187.8,571.8 188.4,571.9 189.0,572.0 189.6,572.1 190.2,572.1 190.8,572.2 191.4,572.2 192.0,572.2 192.6,572.3 193.2,572.3 193.8,572.4 194.4,572.4 195.0,572.4 195.6,572.5 196.2,572.5 196.8,572.5 197.4,572.5 198.0,572.6 198.6,572.6 199.2,572.6 199.8,572.6 200.4,572.6 201.0,572.6 201.6,572.6 202.2,572.6 202.8,572.6 203.4,572.6 204.0,572.6 204.6,572.7 205.2,572.7 205.8,572.7 206.4,572.7 207.0,572.7 207.6,572.7 208.2,572.7 208.8,572.7 209.4,572.7 210.0,572.7 210.6,572.7 211.2,572.7 211.8,572.7 212.4,572.7 213.0,572.7 213.6,572.7 214.2,572.7 214.8,572.7 215.4,572.7 216.0,572.8 216.7,572.8 217.3,572.8 217.9,572.8 218.5,572.8 219.1,572.8 219.7,572.8 220.3,572.8 220.9,572.8 221.5,572.8 222.1,572.8 222.7,572.8 223.3,572.8 223.9,572.8 224.5,572.8 225.1,572.8 225.7,572.8 226.3,572.8 226.9,572.8 227.5,572.8 228.1,572.8 228.7,572.8 229.3,572.8 229.9,572.8 230.5,572.8 231.1,572.8 231.7,572.8" fill="none" stroke="#e02a2a" stroke-width="1.15" stroke-linejoin="round"/>
<text x="86.0" y="477.6" font-size="8.0" font-weight="bold" fill="#3db535">16 ppm</text>
<text transform="translate(86.0,558.0) scale(0.92,1)" font-size="10" fill="#1a1a1a" stroke="#1a1a1a" stroke-width="0.12">j)</text>
<text x="180.8" y="481.3" fill="#121212" stroke="#121212" stroke-width="0.12"><tspan font-style="italic">Đ</tspan>(<tspan font-weight="bold">PMMA</tspan>)=1.28</text>
<text x="180.1" y="497.3" fill="#e32626" stroke="#e32626" stroke-width="0.12"><tspan font-style="italic">Đ</tspan>(<tspan font-weight="bold">PMMA</tspan>-<tspan font-style="italic">b</tspan>-<tspan font-weight="bold">PMMA</tspan>)=1.35</text>
<text x="181.6" y="511.2" fill="#121212" stroke="#121212" stroke-width="0.12"><tspan font-style="italic">P</tspan><tspan font-style="italic" font-size="4.9" dy="1.5">n</tspan><tspan dy="-1.5">(</tspan><tspan font-weight="bold">PMMA</tspan>)=241</text>
<text x="180.1" y="525.8" fill="#e32626" stroke="#e32626" stroke-width="0.12"><tspan font-style="italic">P</tspan><tspan font-style="italic" font-size="4.9" dy="1.5">n</tspan><tspan dy="-1.5">(</tspan><tspan font-style="italic">b</tspan>-<tspan font-weight="bold">PMMA</tspan>)=55</text>
<line x1="269.00" y1="575.50" x2="421.10" y2="575.50" stroke="#484848" stroke-width="1"/>
<line x1="269.50" y1="575.50" x2="269.50" y2="578.10" stroke="#484848" stroke-width="0.9"/>
<line x1="302.50" y1="575.50" x2="302.50" y2="578.10" stroke="#484848" stroke-width="0.9"/>
<line x1="336.50" y1="575.50" x2="336.50" y2="578.10" stroke="#484848" stroke-width="0.9"/>
<line x1="370.50" y1="575.50" x2="370.50" y2="578.10" stroke="#484848" stroke-width="0.9"/>
<line x1="404.50" y1="575.50" x2="404.50" y2="578.10" stroke="#484848" stroke-width="0.9"/>
<line x1="285.50" y1="575.50" x2="285.50" y2="577.30" stroke="#484848" stroke-width="0.8"/>
<line x1="319.50" y1="575.50" x2="319.50" y2="577.30" stroke="#484848" stroke-width="0.8"/>
<line x1="353.50" y1="575.50" x2="353.50" y2="577.30" stroke="#484848" stroke-width="0.8"/>
<line x1="387.50" y1="575.50" x2="387.50" y2="577.30" stroke="#484848" stroke-width="0.8"/>
<line x1="421.50" y1="575.50" x2="421.50" y2="577.30" stroke="#484848" stroke-width="0.8"/>
<text x="269.00" y="586.00" font-size="8.4" fill="#1e1e1e" stroke="#1e1e1e" stroke-width="0.08" text-anchor="middle">10</text>
<text x="302.80" y="586.00" font-size="8.4" fill="#1e1e1e" stroke="#1e1e1e" stroke-width="0.08" text-anchor="middle">12</text>
<text x="336.60" y="586.00" font-size="8.4" fill="#1e1e1e" stroke="#1e1e1e" stroke-width="0.08" text-anchor="middle">14</text>
<text x="370.40" y="586.00" font-size="8.4" fill="#1e1e1e" stroke="#1e1e1e" stroke-width="0.08" text-anchor="middle">16</text>
<text x="404.20" y="586.00" font-size="8.4" fill="#1e1e1e" stroke="#1e1e1e" stroke-width="0.08" text-anchor="middle">18</text>
<path d="M269.0,573.8 269.6,573.8 270.2,573.8 270.8,573.8 271.4,573.8 272.0,573.8 272.6,573.8 273.2,573.8 273.8,573.8 274.4,573.8 275.0,573.8 275.6,573.8 276.2,573.8 276.8,573.8 277.4,573.8 278.0,573.8 278.6,573.8 279.2,573.8 279.8,573.8 280.4,573.8 281.0,573.8 281.6,573.8 282.2,573.8 282.8,573.8 283.4,573.8 284.0,573.8 284.6,573.8 285.2,573.8 285.8,573.8 286.4,573.8 287.0,573.8 287.6,573.8 288.2,573.8 288.8,573.8 289.4,573.8 290.0,573.8 290.6,573.8 291.2,573.8 291.8,573.8 292.4,573.8 293.0,573.8 293.6,573.8 294.2,573.8 294.8,573.8 295.4,573.8 296.0,573.8 296.6,573.8 297.2,573.8 297.8,573.8 298.4,573.8 299.0,573.7 299.6,573.7 300.2,573.7 300.8,573.7 301.4,573.7 302.0,573.6 302.6,573.6 303.2,573.6 303.8,573.5 304.4,573.5 305.0,573.4 305.6,573.4 306.2,573.4 306.8,573.3 307.4,573.2 308.0,573.2 308.6,573.1 309.2,573.1 309.8,572.9 310.4,572.7 311.0,572.4 311.6,572.1 312.2,571.7 312.8,571.2 313.4,570.7 314.0,570.2 314.6,569.7 315.2,569.1 315.8,568.4 316.4,567.6 317.0,566.6 317.6,565.6 318.2,564.4 318.8,563.1 319.4,561.7 320.0,560.2 320.6,558.5 321.2,556.5 321.8,554.3 322.4,551.9 323.0,549.4 323.6,546.8 324.2,544.1 324.8,541.2 325.4,538.2 326.0,535.0 326.6,531.6 327.2,527.9 327.8,524.3 328.4,520.9 329.0,517.9 329.6,515.0 330.2,512.0 330.8,509.1 331.4,506.2 332.0,503.4 332.6,500.5 333.2,497.5 333.8,494.5 334.4,491.5 335.0,488.6 335.6,486.0 336.2,483.5 336.8,481.0 337.4,478.7 338.0,476.7 338.6,475.3 339.2,474.1 339.8,472.9 340.4,471.9 341.0,471.2 341.6,470.7 342.2,470.6 342.8,470.8 343.4,471.1 344.0,471.6 344.6,472.3 345.2,473.0 345.8,473.9 346.4,474.8 347.0,476.4 347.6,478.5 348.2,481.0 348.8,483.6 349.4,486.3 350.0,489.5 350.6,492.9 351.2,496.5 351.8,500.1 352.4,503.7 353.0,507.5 353.6,511.1 354.2,514.6 354.8,518.0 355.4,521.4 356.0,525.1 356.6,529.0 357.2,532.8 357.8,536.1 358.4,539.3 359.0,542.4 359.6,545.2 360.2,547.7 360.8,550.0 361.4,552.1 362.0,554.1 362.6,556.0 363.2,557.7 363.8,559.1 364.4,560.4 365.0,561.5 365.6,562.6 366.2,563.5 366.8,564.4 367.4,565.3 368.0,566.0 368.6,566.7 369.2,567.3 369.8,567.8 370.4,568.3 371.0,568.7 371.6,569.1 372.2,569.5 372.8,569.9 373.4,570.2 374.0,570.5 374.6,570.8 375.2,571.1 375.8,571.3 376.4,571.5 377.0,571.7 377.6,571.8 378.2,571.9 378.8,572.1 379.4,572.2 380.0,572.3 380.6,572.4 381.2,572.5 381.8,572.6 382.4,572.7 383.0,572.7 383.6,572.8 384.2,572.9 384.8,573.0 385.4,573.0 386.0,573.1 386.6,573.2 387.2,573.2 387.8,573.3 388.4,573.3 389.0,573.4 389.6,573.4 390.2,573.4 390.8,573.4 391.4,573.4 392.0,573.4 392.6,573.4 393.2,573.4 393.8,573.5 394.4,573.5 395.0,573.5 395.6,573.5 396.2,573.5 396.8,573.5 397.4,573.5 398.0,573.5 398.6,573.5 399.2,573.5 399.8,573.5 400.4,573.5 401.0,573.5 401.6,573.5 402.2,573.5 402.8,573.5 403.4,573.5 404.0,573.5 404.6,573.6 405.2,573.6 405.8,573.6 406.4,573.6 407.0,573.6 407.6,573.6 408.2,573.6 408.8,573.6 409.4,573.6 410.0,573.6 410.6,573.6 411.2,573.6 411.8,573.6 412.4,573.6 413.0,573.6 413.6,573.6 414.2,573.6 414.8,573.6 415.4,573.6 416.0,573.6 416.6,573.6 417.2,573.6 417.8,573.6 418.4,573.6 419.0,573.6 419.6,573.6 420.2,573.6 420.8,573.6" fill="none" stroke="#121212" stroke-width="1.15" stroke-linejoin="round"/>
<path d="M269.0,572.8 269.6,572.8 270.2,572.8 270.8,572.8 271.4,572.8 272.0,572.8 272.6,572.8 273.2,572.8 273.8,572.8 274.4,572.8 275.0,572.8 275.6,572.8 276.2,572.8 276.8,572.8 277.4,572.8 278.0,572.8 278.6,572.8 279.2,572.8 279.8,572.8 280.4,572.8 281.0,572.8 281.6,572.8 282.2,572.8 282.8,572.8 283.4,572.8 284.0,572.8 284.6,572.8 285.2,572.8 285.8,572.8 286.4,572.8 287.0,572.8 287.6,572.8 288.2,572.7 288.8,572.7 289.4,572.7 290.0,572.7 290.6,572.7 291.2,572.7 291.8,572.7 292.4,572.7 293.0,572.7 293.6,572.7 294.2,572.7 294.8,572.7 295.4,572.7 296.0,572.7 296.6,572.7 297.2,572.6 297.8,572.6 298.4,572.6 299.0,572.6 299.6,572.5 300.2,572.5 300.8,572.4 301.4,572.4 302.0,572.3 302.6,572.3 303.2,572.2 303.8,572.1 304.4,572.0 305.0,572.0 305.6,571.8 306.2,571.6 306.8,571.4 307.4,571.1 308.0,570.8 308.6,570.5 309.2,570.1 309.8,569.6 310.4,569.1 311.0,568.4 311.6,567.3 312.2,566.0 312.8,564.5 313.4,563.0 314.0,561.3 314.6,559.6 315.2,557.8 315.8,555.8 316.4,553.7 317.0,551.4 317.6,548.9 318.2,546.4 318.8,543.8 319.4,540.9 320.0,537.8 320.6,534.5 321.2,531.0 321.8,526.8 322.4,519.5 323.0,512.3 323.6,508.0 324.2,504.6 324.8,501.6 325.4,498.4 326.0,495.3 326.6,492.3 327.2,489.4 327.8,486.8 328.4,484.4 329.0,481.9 329.6,479.6 330.2,477.5 330.8,475.9 331.4,474.7 332.0,473.6 332.6,472.6 333.2,471.7 333.8,471.1 334.4,470.7 335.0,470.6 335.6,470.8 336.2,471.3 336.8,471.9 337.4,472.6 338.0,473.5 338.6,474.5 339.2,475.9 339.8,478.0 340.4,480.3 341.0,482.9 341.6,485.3 342.2,487.8 342.8,490.4 343.4,493.1 344.0,495.9 344.6,498.6 345.2,501.3 345.8,504.0 346.4,506.9 347.0,510.0 347.6,513.5 348.2,517.7 348.8,522.0 349.4,526.3 350.0,530.7 350.6,534.5 351.2,537.8 351.8,540.9 352.4,543.7 353.0,546.4 353.6,549.0 354.2,551.5 354.8,554.0 355.4,556.2 356.0,558.3 356.6,560.0 357.2,561.4 357.8,562.7 358.4,563.9 359.0,565.1 359.6,566.1 360.2,567.0 360.8,567.8 361.4,568.3 362.0,568.8 362.6,569.2 363.2,569.6 363.8,569.9 364.4,570.2 365.0,570.5 365.6,570.8 366.2,571.1 366.8,571.3 367.4,571.5 368.0,571.6 368.6,571.8 369.2,571.9 369.8,572.0 370.4,572.1 371.0,572.1 371.6,572.2 372.2,572.2 372.8,572.3 373.4,572.3 374.0,572.4 374.6,572.4 375.2,572.4 375.8,572.5 376.4,572.5 377.0,572.5 377.6,572.6 378.2,572.6 378.8,572.6 379.4,572.6 380.0,572.7 380.6,572.7 381.2,572.7 381.8,572.7 382.4,572.8 383.0,572.8 383.6,572.8 384.2,572.8 384.8,572.9 385.4,572.9 386.0,572.9 386.6,572.9 387.2,572.9 387.8,573.0 388.4,573.0 389.0,573.0 389.6,573.0 390.2,573.0 390.8,573.0 391.4,573.0 392.0,573.0 392.6,573.0 393.2,573.0 393.8,573.0 394.4,573.1 395.0,573.1 395.6,573.1 396.2,573.1 396.8,573.1 397.4,573.1 398.0,573.1 398.6,573.1 399.2,573.1 399.8,573.1 400.4,573.1 401.0,573.1 401.6,573.1 402.2,573.1 402.8,573.1 403.4,573.1 404.0,573.1 404.6,573.1 405.2,573.1 405.8,573.2 406.4,573.2 407.0,573.2 407.6,573.2 408.2,573.2 408.8,573.2 409.4,573.2 410.0,573.2 410.6,573.2 411.2,573.2 411.8,573.2 412.4,573.2 413.0,573.2 413.6,573.2 414.2,573.2 414.8,573.2 415.4,573.2 416.0,573.2 416.6,573.2 417.2,573.2 417.8,573.2 418.4,573.2 419.0,573.2 419.6,573.2 420.2,573.2 420.8,573.2" fill="none" stroke="#e02a2a" stroke-width="1.15" stroke-linejoin="round"/>
<text x="276.7" y="480.0" font-size="8.0" font-weight="bold" fill="#3db535">6 ppm</text>
<text transform="translate(278.0,558.0) scale(0.92,1)" font-size="10" fill="#1a1a1a" stroke="#1a1a1a" stroke-width="0.12">k)</text>
<text x="359.9" y="481.3" fill="#121212" stroke="#121212" stroke-width="0.12"><tspan font-style="italic">Đ</tspan>(<tspan font-weight="bold">PMMA</tspan>)=1.71</text>
<text x="359.9" y="498.0" fill="#e32626" stroke="#e32626" stroke-width="0.12"><tspan font-style="italic">Đ</tspan>(<tspan font-weight="bold">PMMA</tspan>-<tspan font-style="italic">b</tspan>-<tspan font-weight="bold">PMMA</tspan>)=1.78</text>
<text x="359.9" y="511.6" fill="#121212" stroke="#121212" stroke-width="0.12"><tspan font-style="italic">P</tspan><tspan font-style="italic" font-size="4.9" dy="1.5">n</tspan><tspan dy="-1.5">(</tspan><tspan font-weight="bold">PMMA</tspan>)=325</text>
<text x="359.9" y="526.5" fill="#e32626" stroke="#e32626" stroke-width="0.12"><tspan font-style="italic">P</tspan><tspan font-style="italic" font-size="4.9" dy="1.5">n</tspan><tspan dy="-1.5">(</tspan><tspan font-style="italic">b</tspan>-<tspan font-weight="bold">PMMA</tspan>)=147</text>
<line x1="461.60" y1="575.50" x2="613.25" y2="575.50" stroke="#484848" stroke-width="1"/>
<line x1="461.50" y1="575.50" x2="461.50" y2="578.10" stroke="#484848" stroke-width="0.9"/>
<line x1="495.50" y1="575.50" x2="495.50" y2="578.10" stroke="#484848" stroke-width="0.9"/>
<line x1="529.50" y1="575.50" x2="529.50" y2="578.10" stroke="#484848" stroke-width="0.9"/>
<line x1="562.50" y1="575.50" x2="562.50" y2="578.10" stroke="#484848" stroke-width="0.9"/>
<line x1="596.50" y1="575.50" x2="596.50" y2="578.10" stroke="#484848" stroke-width="0.9"/>
<line x1="478.50" y1="575.50" x2="478.50" y2="577.30" stroke="#484848" stroke-width="0.8"/>
<line x1="512.50" y1="575.50" x2="512.50" y2="577.30" stroke="#484848" stroke-width="0.8"/>
<line x1="545.50" y1="575.50" x2="545.50" y2="577.30" stroke="#484848" stroke-width="0.8"/>
<line x1="579.50" y1="575.50" x2="579.50" y2="577.30" stroke="#484848" stroke-width="0.8"/>
<line x1="613.50" y1="575.50" x2="613.50" y2="577.30" stroke="#484848" stroke-width="0.8"/>
<text x="461.60" y="586.00" font-size="8.4" fill="#1e1e1e" stroke="#1e1e1e" stroke-width="0.08" text-anchor="middle">10</text>
<text x="495.30" y="586.00" font-size="8.4" fill="#1e1e1e" stroke="#1e1e1e" stroke-width="0.08" text-anchor="middle">12</text>
<text x="529.00" y="586.00" font-size="8.4" fill="#1e1e1e" stroke="#1e1e1e" stroke-width="0.08" text-anchor="middle">14</text>
<text x="562.70" y="586.00" font-size="8.4" fill="#1e1e1e" stroke="#1e1e1e" stroke-width="0.08" text-anchor="middle">16</text>
<text x="596.40" y="586.00" font-size="8.4" fill="#1e1e1e" stroke="#1e1e1e" stroke-width="0.08" text-anchor="middle">18</text>
<path d="M461.6,572.4 462.2,572.4 462.8,572.4 463.4,572.4 464.0,572.4 464.6,572.4 465.2,572.4 465.8,572.4 466.4,572.4 467.0,572.4 467.6,572.4 468.2,572.4 468.8,572.4 469.4,572.4 470.0,572.4 470.6,572.4 471.2,572.4 471.8,572.4 472.4,572.4 473.0,572.4 473.6,572.4 474.2,572.4 474.8,572.4 475.4,572.4 476.0,572.4 476.6,572.4 477.2,572.4 477.8,572.4 478.4,572.4 479.0,572.4 479.6,572.4 480.2,572.4 480.8,572.4 481.4,572.4 482.0,572.4 482.6,572.4 483.2,572.4 483.8,572.4 484.4,572.3 485.0,572.3 485.6,572.3 486.2,572.3 486.8,572.2 487.4,572.2 488.0,572.2 488.6,572.2 489.2,572.1 489.8,572.1 490.4,572.0 491.0,572.0 491.6,571.9 492.2,571.9 492.8,571.8 493.4,571.8 494.0,571.6 494.6,571.4 495.2,571.1 495.8,570.7 496.4,570.3 497.0,569.8 497.6,569.3 498.2,568.8 498.8,568.0 499.4,567.0 500.1,565.8 500.7,564.6 501.3,563.2 501.9,561.8 502.5,560.4 503.1,558.7 503.7,556.9 504.3,554.9 504.9,552.8 505.5,550.5 506.1,548.2 506.7,545.7 507.3,543.1 507.9,540.2 508.5,537.1 509.1,533.6 509.7,529.3 510.3,524.5 510.9,519.1 511.5,513.9 512.1,509.9 512.7,506.4 513.3,503.2 513.9,500.2 514.5,497.0 515.1,494.0 515.7,491.1 516.3,488.5 516.9,486.0 517.5,483.5 518.1,481.2 518.7,479.4 519.3,478.3 519.9,477.5 520.5,476.8 521.1,476.1 521.7,475.6 522.3,475.1 522.9,474.8 523.5,474.6 524.1,474.6 524.7,474.8 525.3,475.1 525.9,475.7 526.5,476.3 527.1,477.1 527.7,477.9 528.3,478.9 528.9,480.6 529.5,482.8 530.1,485.3 530.7,487.6 531.3,489.8 531.9,491.9 532.5,494.0 533.1,496.2 533.7,498.5 534.3,501.0 534.9,503.6 535.5,506.3 536.1,509.1 536.7,511.7 537.3,514.2 537.9,516.5 538.5,518.9 539.1,521.3 539.7,523.9 540.3,526.7 540.9,529.6 541.5,532.4 542.1,535.1 542.7,537.6 543.3,540.1 543.9,542.6 544.5,544.9 545.1,547.2 545.7,549.2 546.3,551.2 546.9,553.2 547.5,555.1 548.1,556.9 548.7,558.5 549.3,560.0 549.9,561.3 550.5,562.3 551.1,563.3 551.7,564.2 552.3,565.0 552.9,565.8 553.5,566.5 554.1,567.2 554.7,567.8 555.3,568.4 555.9,568.9 556.5,569.4 557.1,569.9 557.7,570.3 558.3,570.7 558.9,571.0 559.5,571.3 560.1,571.5 560.7,571.7 561.3,571.9 561.9,572.1 562.5,572.3 563.1,572.4 563.7,572.6 564.3,572.7 564.9,572.9 565.5,573.0 566.1,573.1 566.7,573.3 567.3,573.4 567.9,573.6 568.5,573.7 569.1,573.9 569.7,574.0 570.3,574.1 570.9,574.2 571.5,574.2 572.1,574.3 572.7,574.3 573.3,574.3 573.9,574.3 574.5,574.3 575.1,574.4 575.8,574.4 576.4,574.4 577.0,574.4 577.6,574.4 578.2,574.4 578.8,574.4 579.4,574.4 580.0,574.4 580.6,574.4 581.2,574.4 581.8,574.4 582.4,574.4 583.0,574.3 583.6,574.3 584.2,574.2 584.8,574.2 585.4,574.1 586.0,574.1 586.6,574.0 587.2,573.9 587.8,573.9 588.4,573.8 589.0,573.8 589.6,573.7 590.2,573.7 590.8,573.7 591.4,573.7 592.0,573.6 592.6,573.6 593.2,573.6 593.8,573.6 594.4,573.5 595.0,573.5 595.6,573.5 596.2,573.5 596.8,573.5 597.4,573.5 598.0,573.4 598.6,573.4 599.2,573.4 599.8,573.4 600.4,573.4 601.0,573.4 601.6,573.3 602.2,573.3 602.8,573.3 603.4,573.3 604.0,573.3 604.6,573.3 605.2,573.3 605.8,573.3 606.4,573.3 607.0,573.2 607.6,573.2 608.2,573.2 608.8,573.2 609.4,573.2 610.0,573.2 610.6,573.2 611.2,573.2 611.8,573.2 612.4,573.2 613.0,573.2 613.6,573.2" fill="none" stroke="#121212" stroke-width="1.15" stroke-linejoin="round"/>
<path d="M461.6,571.6 462.2,571.6 462.8,571.6 463.4,571.6 464.0,571.6 464.6,571.6 465.2,571.6 465.8,571.6 466.4,571.6 467.0,571.6 467.6,571.6 468.2,571.6 468.8,571.6 469.4,571.6 470.0,571.6 470.6,571.6 471.2,571.6 471.8,571.6 472.4,571.6 473.0,571.6 473.6,571.6 474.2,571.6 474.8,571.6 475.4,571.6 476.0,571.6 476.6,571.6 477.2,571.6 477.8,571.6 478.4,571.6 479.0,571.6 479.6,571.6 480.2,571.6 480.8,571.6 481.4,571.6 482.0,571.6 482.6,571.6 483.2,571.6 483.8,571.6 484.4,571.6 485.0,571.5 485.6,571.5 486.2,571.5 486.8,571.5 487.4,571.5 488.0,571.5 488.6,571.4 489.2,571.4 489.8,571.4 490.4,571.4 491.0,571.3 491.6,571.3 492.2,571.3 492.8,571.2 493.4,571.2 494.0,571.0 494.6,570.8 495.2,570.5 495.8,570.1 496.4,569.7 497.0,569.3 497.6,568.8 498.2,568.1 498.8,567.3 499.4,566.2 500.1,565.0 500.7,563.8 501.3,562.4 501.9,561.0 502.5,559.5 503.1,557.8 503.7,555.9 504.3,553.9 504.9,551.7 505.5,549.4 506.1,546.9 506.7,544.3 507.3,541.4 507.9,538.3 508.5,534.8 509.1,530.9 509.7,526.2 510.3,520.3 510.9,514.0 511.5,509.8 512.1,506.5 512.7,503.6 513.3,500.7 513.9,497.5 514.5,494.3 515.1,491.2 515.7,488.5 516.3,486.1 516.9,483.8 517.5,481.8 518.1,480.1 518.7,478.9 519.3,477.9 519.9,477.0 520.5,476.2 521.1,475.5 521.7,475.0 522.3,474.7 522.9,474.6 523.5,474.8 524.1,475.3 524.7,475.9 525.3,476.6 525.9,477.5 526.5,478.5 527.1,479.5 527.7,481.1 528.3,483.1 528.9,485.3 529.5,487.6 530.1,490.0 530.7,492.7 531.3,495.6 531.9,498.4 532.5,501.0 533.1,503.5 533.7,506.0 534.3,508.5 534.9,511.2 535.5,514.2 536.1,517.3 536.7,520.5 537.3,523.5 537.9,526.2 538.5,528.8 539.1,531.3 539.7,533.8 540.3,536.3 540.9,538.9 541.5,541.5 542.1,544.0 542.7,546.4 543.3,548.6 543.9,550.5 544.5,552.4 545.1,554.1 545.7,555.8 546.3,557.4 546.9,558.8 547.5,560.1 548.1,561.3 548.7,562.4 549.3,563.5 549.9,564.5 550.5,565.4 551.1,566.3 551.7,567.0 552.3,567.7 552.9,568.1 553.5,568.5 554.1,568.9 554.7,569.2 555.3,569.5 555.9,569.7 556.5,570.0 557.1,570.2 557.7,570.4 558.3,570.6 558.9,570.7 559.5,570.8 560.1,570.9 560.7,571.1 561.3,571.2 561.9,571.3 562.5,571.3 563.1,571.4 563.7,571.4 564.3,571.4 564.9,571.4 565.5,571.4 566.1,571.4 566.7,571.4 567.3,571.4 567.9,571.4 568.5,571.4 569.1,571.4 569.7,571.4 570.3,571.4 570.9,571.4 571.5,571.4 572.1,571.4 572.7,571.4 573.3,571.4 573.9,571.4 574.5,571.4 575.1,571.4 575.8,571.4 576.4,571.4 577.0,571.4 577.6,571.4 578.2,571.4 578.8,571.4 579.4,571.4 580.0,571.4 580.6,571.4 581.2,571.4 581.8,571.4 582.4,571.4 583.0,571.4 583.6,571.4 584.2,571.4 584.8,571.4 585.4,571.4 586.0,571.4 586.6,571.4 587.2,571.4 587.8,571.4 588.4,571.4 589.0,571.4 589.6,571.4 590.2,571.4 590.8,571.4 591.4,571.4 592.0,571.4 592.6,571.4 593.2,571.4 593.8,571.4 594.4,571.4 595.0,571.4 595.6,571.4 596.2,571.4 596.8,571.4 597.4,571.4 598.0,571.4 598.6,571.4 599.2,571.4 599.8,571.4 600.4,571.4 601.0,571.4 601.6,571.4 602.2,571.4 602.8,571.4 603.4,571.4 604.0,571.4 604.6,571.4 605.2,571.4 605.8,571.4 606.4,571.4 607.0,571.4 607.6,571.4 608.2,571.4 608.8,571.4 609.4,571.4 610.0,571.4 610.6,571.4 611.2,571.4 611.8,571.4 612.4,571.4 613.0,571.4 613.6,571.4" fill="none" stroke="#e02a2a" stroke-width="1.15" stroke-linejoin="round"/>
<text x="462.0" y="480.0" font-size="8.0" font-weight="bold" fill="#3db535">2 ppm</text>
<text transform="translate(470.1,558.0) scale(0.92,1)" font-size="10" fill="#1a1a1a" stroke="#1a1a1a" stroke-width="0.12">l)</text>
<text x="544.0" y="482.7" fill="#121212" stroke="#121212" stroke-width="0.12"><tspan font-style="italic">Đ</tspan>(<tspan font-weight="bold">PMMA</tspan>)=2.45</text>
<text x="544.0" y="498.0" fill="#e32626" stroke="#e32626" stroke-width="0.12"><tspan font-style="italic">Đ</tspan>(<tspan font-weight="bold">PMMA</tspan>-<tspan font-style="italic">b</tspan>-<tspan font-weight="bold">PMMA</tspan>)=2.22</text>
<text x="544.0" y="511.6" fill="#121212" stroke="#121212" stroke-width="0.12"><tspan font-style="italic">P</tspan><tspan font-style="italic" font-size="4.9" dy="1.5">n</tspan><tspan dy="-1.5">(</tspan><tspan font-weight="bold">PMMA</tspan>)=539</text>
<text x="544.0" y="522.1" fill="#e32626" stroke="#e32626" stroke-width="0.12"><tspan font-style="italic">P</tspan><tspan font-style="italic" font-size="4.9" dy="1.5">n</tspan><tspan dy="-1.5">(</tspan><tspan font-style="italic">b</tspan>-<tspan font-weight="bold">PMMA</tspan>)=83</text>
<text x="155.5" y="291.2" font-size="10.3" fill="#262626" stroke="#262626" stroke-width="0.1" text-anchor="middle">Retention time (min)</text>
<text x="345.0" y="291.2" font-size="10.3" fill="#262626" stroke="#262626" stroke-width="0.1" text-anchor="middle">Retention time (min)</text>
<text x="537.0" y="291.2" font-size="10.3" fill="#262626" stroke="#262626" stroke-width="0.1" text-anchor="middle">Retention time (min)</text>
<text x="155.5" y="600.8" font-size="10.3" fill="#262626" stroke="#262626" stroke-width="0.1" text-anchor="middle">Retention time (min)</text>
<text x="345.0" y="600.8" font-size="10.3" fill="#262626" stroke="#262626" stroke-width="0.1" text-anchor="middle">Retention time (min)</text>
<text x="537.0" y="600.8" font-size="10.3" fill="#262626" stroke="#262626" stroke-width="0.1" text-anchor="middle">Retention time (min)</text>
<ellipse cx="566.3" cy="258.4" rx="12.8" ry="19" fill="none" stroke="#3cb44a" stroke-width="1.7" stroke-dasharray="3 1.4"/>
</svg></body></html>
